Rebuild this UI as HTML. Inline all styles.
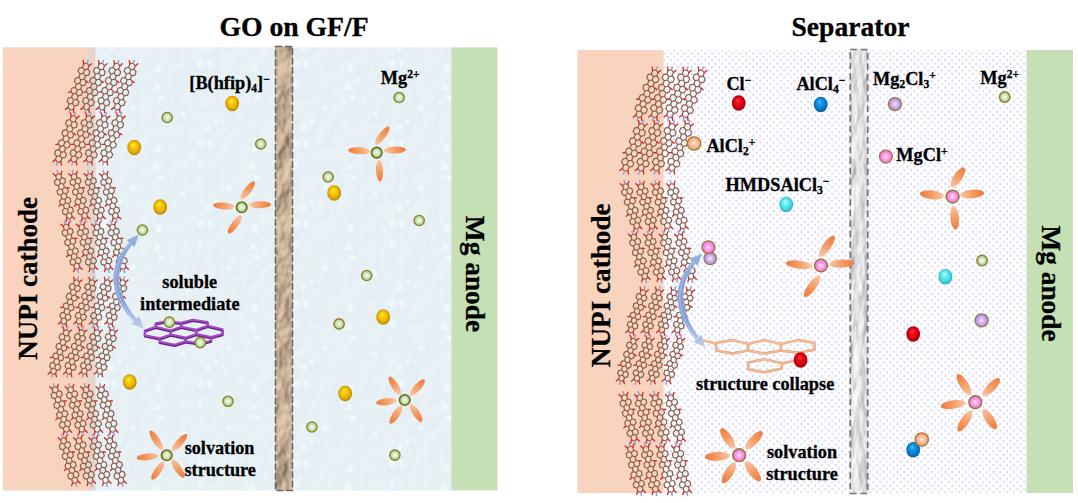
<!DOCTYPE html>
<html lang="en"><head><meta charset="utf-8"><title>Separator schematic</title>
<style>html,body{margin:0;padding:0;background:#fff;}body{width:1078px;height:503px;overflow:hidden;font-family:"Liberation Serif",serif;}svg{display:block}</style>
</head><body>
<svg width="1078" height="503" viewBox="0 0 1078 503">

<defs>
  <radialGradient id="gYel" cx="0.5" cy="0.5" r="0.56" fx="0.42" fy="0.30">
    <stop offset="0" stop-color="#FFF640"/><stop offset="0.28" stop-color="#FBCE0E"/><stop offset="0.62" stop-color="#EAB200"/><stop offset="0.88" stop-color="#BC8C00"/><stop offset="1" stop-color="#A27A00"/>
  </radialGradient>
  <radialGradient id="gRed" cx="0.5" cy="0.5" r="0.56" fx="0.42" fy="0.30">
    <stop offset="0" stop-color="#FF4A3E"/><stop offset="0.28" stop-color="#F2101A"/><stop offset="0.62" stop-color="#D60010"/><stop offset="0.88" stop-color="#A4000A"/><stop offset="1" stop-color="#8A0008"/>
  </radialGradient>
  <radialGradient id="gBlue" cx="0.5" cy="0.5" r="0.56" fx="0.42" fy="0.30">
    <stop offset="0" stop-color="#48C8FF"/><stop offset="0.28" stop-color="#1399EA"/><stop offset="0.62" stop-color="#0A7ED2"/><stop offset="0.88" stop-color="#075FA6"/><stop offset="1" stop-color="#06508E"/>
  </radialGradient>
  <radialGradient id="gCyan" cx="0.5" cy="0.5" r="0.56" fx="0.42" fy="0.30">
    <stop offset="0" stop-color="#D0FFFF"/><stop offset="0.28" stop-color="#6CF0F4"/><stop offset="0.62" stop-color="#48DCE4"/><stop offset="0.88" stop-color="#30B4BE"/><stop offset="1" stop-color="#289CA6"/>
  </radialGradient>
  <radialGradient id="gGreen" cx="0.5" cy="0.5" r="0.5">
    <stop offset="0" stop-color="#FFFFFF"/><stop offset="0.25" stop-color="#E8F3DF"/><stop offset="0.7" stop-color="#BBDCA2"/><stop offset="1" stop-color="#8FC26C"/>
  </radialGradient>
  <radialGradient id="gPink" cx="0.5" cy="0.5" r="0.5">
    <stop offset="0" stop-color="#FFE6FA"/><stop offset="0.5" stop-color="#FF9BE8"/><stop offset="1" stop-color="#F56AD6"/>
  </radialGradient>
  <radialGradient id="gPurp" cx="0.5" cy="0.5" r="0.5">
    <stop offset="0" stop-color="#F3E9FF"/><stop offset="0.5" stop-color="#CDB0F2"/><stop offset="1" stop-color="#AE86E4"/>
  </radialGradient>
  <radialGradient id="gOrg" cx="0.5" cy="0.5" r="0.5">
    <stop offset="0" stop-color="#FFE9DA"/><stop offset="0.5" stop-color="#F8BE98"/><stop offset="1" stop-color="#F0A070"/>
  </radialGradient>
  <linearGradient id="gPet" x1="0" y1="0" x2="1" y2="0">
    <stop offset="0" stop-color="#F9C6A4"/><stop offset="0.55" stop-color="#F49A62"/><stop offset="1" stop-color="#EE7A3C"/>
  </linearGradient>
  <linearGradient id="gArr" x1="0" y1="0" x2="0" y2="1">
    <stop offset="0" stop-color="#9DB6E4"/><stop offset="0.5" stop-color="#86A4DA"/><stop offset="1" stop-color="#B9CBEC"/>
  </linearGradient>
  <pattern id="pDots" width="6.86" height="6.86" patternUnits="userSpaceOnUse" x="0.5" y="0.3">
    <rect width="6.86" height="6.86" fill="#FFFFFF"/>
    <ellipse cx="1.6" cy="1.7" rx="1.0" ry="1.25" fill="#D3D3FA"/>
    <ellipse cx="5.03" cy="5.13" rx="1.0" ry="1.25" fill="#D3D3FA"/>
  </pattern>
  <filter id="fPaper" x="0" y="0" width="1" height="1" color-interpolation-filters="sRGB">
    <feTurbulence type="fractalNoise" baseFrequency="0.06 0.04" numOctaves="3" seed="12" result="n"/>
    <feDiffuseLighting in="n" surfaceScale="3.0" diffuseConstant="1.12" lighting-color="#CDB79B" result="l">
      <feDistantLight azimuth="215" elevation="60"/>
    </feDiffuseLighting>
    <feComposite in="l" in2="SourceGraphic" operator="in"/>
  </filter>
  <filter id="fMarble" x="0" y="0" width="1" height="1" color-interpolation-filters="sRGB">
    <feTurbulence type="fractalNoise" baseFrequency="0.09 0.035" numOctaves="3" seed="5" result="n"/>
    <feDiffuseLighting in="n" surfaceScale="1.6" diffuseConstant="1.12" lighting-color="#E3E3E5" result="l">
      <feDistantLight azimuth="200" elevation="62"/>
    </feDiffuseLighting>
    <feComposite in="l" in2="SourceGraphic" operator="in"/>
  </filter>
  <filter id="fWater" x="0" y="0" width="1" height="1" color-interpolation-filters="sRGB">
    <feTurbulence type="turbulence" baseFrequency="0.05 0.04" numOctaves="2" seed="21" result="n"/>
    <feDiffuseLighting in="n" surfaceScale="0.45" diffuseConstant="1.0" lighting-color="#EBF5F9" result="l">
      <feDistantLight azimuth="225" elevation="80"/>
    </feDiffuseLighting>
    <feComposite in="l" in2="SourceGraphic" operator="in"/>
  </filter>
  <pattern id="pDrops" width="96" height="80" patternUnits="userSpaceOnUse"><g transform="translate(24.9,43.2) rotate(8)"><ellipse rx="3.8" ry="4.6" cx="0.5" cy="0.6" fill="#C9DFE9" opacity="0.5"/><ellipse rx="3.8" ry="4.6" fill="#E4F1F6"/><ellipse rx="1.7" ry="2.3" cx="-1.1" cy="-1.1" fill="#F7FBFD" opacity="0.9"/></g><g transform="translate(9.8,4.9) rotate(-16)"><ellipse rx="5.8" ry="6.3" cx="0.5" cy="0.6" fill="#C9DFE9" opacity="0.5"/><ellipse rx="5.8" ry="6.3" fill="#E4F1F6"/><ellipse rx="2.6" ry="3.2" cx="-1.7" cy="-1.6" fill="#F7FBFD" opacity="0.9"/></g><g transform="translate(91.6,37.9) rotate(8)"><ellipse rx="5.8" ry="6.8" cx="0.5" cy="0.6" fill="#C9DFE9" opacity="0.5"/><ellipse rx="5.8" ry="6.8" fill="#E4F1F6"/><ellipse rx="2.6" ry="3.4" cx="-1.7" cy="-1.7" fill="#F7FBFD" opacity="0.9"/></g><g transform="translate(17.3,49.7) rotate(14)"><ellipse rx="5.9" ry="7.0" cx="0.5" cy="0.6" fill="#C9DFE9" opacity="0.5"/><ellipse rx="5.9" ry="7.0" fill="#E4F1F6"/><ellipse rx="2.7" ry="3.5" cx="-1.8" cy="-1.8" fill="#F7FBFD" opacity="0.9"/></g><g transform="translate(63.1,8.6) rotate(-12)"><ellipse rx="5.5" ry="6.6" cx="0.5" cy="0.6" fill="#C9DFE9" opacity="0.5"/><ellipse rx="5.5" ry="6.6" fill="#E4F1F6"/><ellipse rx="2.5" ry="3.3" cx="-1.6" cy="-1.6" fill="#F7FBFD" opacity="0.9"/></g><g transform="translate(6.7,66.3) rotate(23)"><ellipse rx="4.2" ry="5.3" cx="0.5" cy="0.6" fill="#C9DFE9" opacity="0.5"/><ellipse rx="4.2" ry="5.3" fill="#E4F1F6"/><ellipse rx="1.9" ry="2.6" cx="-1.3" cy="-1.3" fill="#F7FBFD" opacity="0.9"/></g><g transform="translate(66.8,70.3) rotate(-3)"><ellipse rx="3.9" ry="5.0" cx="0.5" cy="0.6" fill="#C9DFE9" opacity="0.5"/><ellipse rx="3.9" ry="5.0" fill="#E4F1F6"/><ellipse rx="1.8" ry="2.5" cx="-1.2" cy="-1.2" fill="#F7FBFD" opacity="0.9"/></g><g transform="translate(86.3,67.3) rotate(-17)"><ellipse rx="2.6" ry="2.7" cx="0.5" cy="0.6" fill="#C9DFE9" opacity="0.5"/><ellipse rx="2.6" ry="2.7" fill="#E4F1F6"/><ellipse rx="1.2" ry="1.4" cx="-0.8" cy="-0.7" fill="#F7FBFD" opacity="0.9"/></g><g transform="translate(89.0,35.4) rotate(0)"><ellipse rx="4.9" ry="5.4" cx="0.5" cy="0.6" fill="#C9DFE9" opacity="0.5"/><ellipse rx="4.9" ry="5.4" fill="#E4F1F6"/><ellipse rx="2.2" ry="2.7" cx="-1.5" cy="-1.4" fill="#F7FBFD" opacity="0.9"/></g><g transform="translate(38.0,29.3) rotate(24)"><ellipse rx="4.7" ry="5.7" cx="0.5" cy="0.6" fill="#C9DFE9" opacity="0.5"/><ellipse rx="4.7" ry="5.7" fill="#E4F1F6"/><ellipse rx="2.1" ry="2.8" cx="-1.4" cy="-1.4" fill="#F7FBFD" opacity="0.9"/></g><g transform="translate(64.0,70.9) rotate(10)"><ellipse rx="5.9" ry="7.9" cx="0.5" cy="0.6" fill="#C9DFE9" opacity="0.5"/><ellipse rx="5.9" ry="7.9" fill="#E4F1F6"/><ellipse rx="2.6" ry="4.0" cx="-1.8" cy="-2.0" fill="#F7FBFD" opacity="0.9"/></g><g transform="translate(18.4,66.0) rotate(4)"><ellipse rx="6.3" ry="8.4" cx="0.5" cy="0.6" fill="#C9DFE9" opacity="0.5"/><ellipse rx="6.3" ry="8.4" fill="#E4F1F6"/><ellipse rx="2.9" ry="4.2" cx="-1.9" cy="-2.1" fill="#F7FBFD" opacity="0.9"/></g><g transform="translate(66.8,19.2) rotate(-13)"><ellipse rx="5.8" ry="6.9" cx="0.5" cy="0.6" fill="#C9DFE9" opacity="0.5"/><ellipse rx="5.8" ry="6.9" fill="#E4F1F6"/><ellipse rx="2.6" ry="3.5" cx="-1.7" cy="-1.7" fill="#F7FBFD" opacity="0.9"/></g><g transform="translate(9.6,65.5) rotate(18)"><ellipse rx="6.5" ry="6.7" cx="0.5" cy="0.6" fill="#C9DFE9" opacity="0.5"/><ellipse rx="6.5" ry="6.7" fill="#E4F1F6"/><ellipse rx="2.9" ry="3.3" cx="-1.9" cy="-1.7" fill="#F7FBFD" opacity="0.9"/></g></pattern>
  <filter id="fSoft" x="-0.05" y="-0.05" width="1.1" height="1.1"><feGaussianBlur stdDeviation="0.55"/></filter>
</defs>

<rect width="1078" height="503" fill="#FFFFFF"/>
<rect x="2.8" y="47.5" width="494.6" height="442.8" fill="#E8F4F8"/>
<rect x="2.8" y="47.5" width="494.6" height="442.8" fill="#fff" filter="url(#fWater)"/>
<rect x="2.8" y="47.5" width="494.6" height="442.8" fill="url(#pDrops)" opacity="0.8"/>
<rect x="2.8" y="47.5" width="85.2" height="442.8" fill="#F8D3BD"/>
<rect x="87.5" y="47.5" width="8" height="442.8" fill="#E5D5CA"/>
<rect x="451.5" y="47.5" width="45.9" height="442.8" fill="#C5E0B4"/>
<rect x="275.5" y="46.5" width="17" height="444" fill="#C3AB8D"/>
<rect x="275.5" y="46.5" width="17" height="444" fill="#fff" filter="url(#fPaper)"/>
<rect x="275.5" y="46.5" width="17" height="444" fill="none" stroke="#6C6266" stroke-width="1.5" stroke-dasharray="6.8 2.6"/>
<rect x="577.5" y="50" width="495.5" height="443" fill="url(#pDots)"/>
<rect x="577.5" y="50" width="86" height="443" fill="#F8D3BD"/>
<rect x="1026.5" y="50" width="46.5" height="443" fill="#C5E0B4"/>
<rect x="850.3" y="49.5" width="17.4" height="444" fill="#D9D9D9"/>
<rect x="850.3" y="49.5" width="17.4" height="444" fill="#fff" filter="url(#fMarble)"/>
<rect x="850.3" y="49.5" width="17.4" height="444" fill="none" stroke="#757074" stroke-width="1.7" stroke-dasharray="6.5 4"/>
<g filter="url(#fSoft)"><path d="M87.0,63.2 L83.7,63.9 L82.5,67.3 L84.6,69.9 L87.8,69.2 L89.1,65.9ZM87.8,69.2 L84.6,69.9 L83.4,73.2 L85.4,75.9 L88.7,75.2 L89.9,71.8ZM82.5,67.3 L79.3,68.0 L78.0,71.3 L80.1,74.0 L83.4,73.2 L84.6,69.9ZM83.4,73.2 L80.1,74.0 L78.9,77.3 L80.9,79.9 L84.2,79.2 L85.4,75.9ZM84.2,79.2 L80.9,79.9 L79.7,83.3 L81.8,85.9 L85.0,85.2 L86.3,81.9ZM78.9,77.3 L75.6,78.0 L74.4,81.3 L76.5,84.0 L79.7,83.3 L80.9,79.9ZM79.7,83.3 L76.5,84.0 L75.2,87.3 L77.3,90.0 L80.6,89.2 L81.8,85.9ZM80.6,89.2 L77.3,90.0 L76.1,93.3 L78.1,95.9 L81.4,95.2 L82.6,91.9ZM75.2,87.3 L72.0,88.0 L70.8,91.4 L72.8,94.0 L76.1,93.3 L77.3,90.0ZM76.1,93.3 L72.8,94.0 L71.6,97.3 L73.7,100.0 L76.9,99.3 L78.1,95.9ZM76.9,99.3 L73.7,100.0 L72.4,103.3 L74.5,106.0 L77.8,105.2 L79.0,101.9ZM71.6,97.3 L68.3,98.0 L67.1,101.4 L69.2,104.0 L72.4,103.3 L73.7,100.0ZM72.4,103.3 L69.2,104.0 L68.0,107.4 L70.0,110.0 L73.3,109.3 L74.5,106.0Z" fill="none" stroke="#8A5E49" stroke-width="1.2" stroke-linejoin="round"/><path d="M87.0,63.2 L88.0,60.4M70.0,110.0 L69.0,112.8" stroke="#93A3D6" stroke-width="1.5" stroke-linecap="round" fill="none"/><path d="M89.1,65.9 L91.6,63.8M83.7,63.9 L83.1,60.7M73.3,109.3 L73.9,112.5M68.0,107.4 L65.4,109.4M86.5,81.2 L88.1,82.6M70.5,92.0 L68.4,92.1" stroke="#E3241C" stroke-width="1.35" stroke-linecap="round" fill="none"/><path d="M74.5,115.5 L71.2,116.2 L70.0,119.5 L72.1,122.2 L75.3,121.5 L76.5,118.1ZM75.3,121.5 L72.1,122.2 L70.8,125.5 L72.9,128.2 L76.2,127.5 L77.4,124.1ZM70.0,119.5 L66.7,120.3 L65.5,123.6 L67.6,126.2 L70.8,125.5 L72.1,122.2ZM70.8,125.5 L67.6,126.2 L66.4,129.6 L68.4,132.2 L71.7,131.5 L72.9,128.2ZM71.7,131.5 L68.4,132.2 L67.2,135.5 L69.3,138.2 L72.5,137.5 L73.7,134.1ZM66.4,129.6 L63.1,130.3 L61.9,133.6 L63.9,136.3 L67.2,135.5 L68.4,132.2ZM67.2,135.5 L63.9,136.3 L62.7,139.6 L64.8,142.2 L68.0,141.5 L69.3,138.2ZM68.0,141.5 L64.8,142.2 L63.6,145.6 L65.6,148.2 L68.9,147.5 L70.1,144.2ZM62.7,139.6 L59.5,140.3 L58.2,143.6 L60.3,146.3 L63.6,145.6 L64.8,142.2ZM63.6,145.6 L60.3,146.3 L59.1,149.6 L61.1,152.3 L64.4,151.5 L65.6,148.2ZM64.4,151.5 L61.1,152.3 L59.9,155.6 L62.0,158.2 L65.2,157.5 L66.5,154.2ZM59.1,149.6 L55.8,150.3 L54.6,153.7 L56.7,156.3 L59.9,155.6 L61.1,152.3ZM59.9,155.6 L56.7,156.3 L55.4,159.6 L57.5,162.3 L60.8,161.6 L62.0,158.2Z" fill="none" stroke="#8A5E49" stroke-width="1.2" stroke-linejoin="round"/><path d="M74.5,115.5 L75.5,112.7M57.5,162.3 L56.5,165.1" stroke="#93A3D6" stroke-width="1.5" stroke-linecap="round" fill="none"/><path d="M76.5,118.1 L79.1,116.1M71.2,116.2 L70.6,113.0M60.8,161.6 L61.4,164.8M55.4,159.6 L52.9,161.7M74.0,133.5 L75.6,134.9M58.0,144.3 L55.9,144.4" stroke="#E3241C" stroke-width="1.35" stroke-linecap="round" fill="none"/><path d="M57.8,173.5 L55.7,175.8 L56.6,179.1 L59.6,180.0 L61.7,177.7 L60.9,174.4ZM61.7,177.7 L59.6,180.0 L60.5,183.3 L63.5,184.2 L65.6,181.9 L64.8,178.6ZM56.6,179.1 L54.4,181.4 L55.3,184.6 L58.3,185.6 L60.5,183.3 L59.6,180.0ZM60.5,183.3 L58.3,185.6 L59.2,188.8 L62.2,189.7 L64.4,187.4 L63.5,184.2ZM64.4,187.4 L62.2,189.7 L63.1,193.0 L66.1,193.9 L68.3,191.6 L67.4,188.4ZM59.2,188.8 L57.0,191.1 L57.9,194.4 L60.9,195.3 L63.1,193.0 L62.2,189.7ZM63.1,193.0 L60.9,195.3 L61.8,198.6 L64.8,199.5 L67.0,197.2 L66.1,193.9ZM67.0,197.2 L64.8,199.5 L65.7,202.7 L68.7,203.7 L70.9,201.3 L70.0,198.1ZM61.8,198.6 L59.6,200.9 L60.5,204.1 L63.5,205.1 L65.7,202.7 L64.8,199.5ZM65.7,202.7 L63.5,205.1 L64.4,208.3 L67.4,209.2 L69.6,206.9 L68.7,203.7ZM69.6,206.9 L67.4,209.2 L68.3,212.5 L71.3,213.4 L73.5,211.1 L72.6,207.8ZM64.4,208.3 L62.3,210.6 L63.1,213.9 L66.2,214.8 L68.3,212.5 L67.4,209.2ZM68.3,212.5 L66.2,214.8 L67.0,218.0 L70.1,219.0 L72.2,216.7 L71.3,213.4Z" fill="none" stroke="#8A5E49" stroke-width="1.2" stroke-linejoin="round"/><path d="M57.8,173.5 L57.1,170.6M70.1,219.0 L70.8,221.9" stroke="#93A3D6" stroke-width="1.5" stroke-linecap="round" fill="none"/><path d="M60.9,174.4 L61.8,171.4M55.7,175.8 L53.3,173.7M72.2,216.7 L74.6,218.8M67.0,218.0 L66.1,221.1M67.2,187.7 L69.3,187.9M60.7,204.8 L59.0,206.1" stroke="#E3241C" stroke-width="1.35" stroke-linecap="round" fill="none"/><path d="M65.4,224.0 L63.3,226.3 L64.2,229.6 L67.2,230.5 L69.3,228.2 L68.5,225.0ZM69.3,228.2 L67.2,230.5 L68.1,233.8 L71.1,234.7 L73.2,232.4 L72.4,229.1ZM64.2,229.6 L62.0,231.9 L62.9,235.2 L65.9,236.1 L68.1,233.8 L67.2,230.5ZM68.1,233.8 L65.9,236.1 L66.8,239.3 L69.8,240.3 L72.0,237.9 L71.1,234.7ZM72.0,237.9 L69.8,240.3 L70.7,243.5 L73.7,244.4 L75.9,242.1 L75.0,238.9ZM66.8,239.3 L64.6,241.7 L65.5,244.9 L68.5,245.8 L70.7,243.5 L69.8,240.3ZM70.7,243.5 L68.5,245.8 L69.4,249.1 L72.4,250.0 L74.6,247.7 L73.7,244.4ZM74.6,247.7 L72.4,250.0 L73.3,253.3 L76.3,254.2 L78.5,251.9 L77.6,248.6ZM69.4,249.1 L67.2,251.4 L68.1,254.6 L71.1,255.6 L73.3,253.3 L72.4,250.0ZM73.3,253.3 L71.1,255.6 L72.0,258.8 L75.0,259.7 L77.2,257.4 L76.3,254.2ZM77.2,257.4 L75.0,259.7 L75.9,263.0 L78.9,263.9 L81.1,261.6 L80.2,258.4ZM72.0,258.8 L69.9,261.1 L70.7,264.4 L73.8,265.3 L75.9,263.0 L75.0,259.7ZM75.9,263.0 L73.8,265.3 L74.6,268.6 L77.7,269.5 L79.8,267.2 L78.9,263.9Z" fill="none" stroke="#8A5E49" stroke-width="1.2" stroke-linejoin="round"/><path d="M65.4,224.0 L64.7,221.1M77.7,269.5 L78.4,272.4" stroke="#93A3D6" stroke-width="1.5" stroke-linecap="round" fill="none"/><path d="M68.5,225.0 L69.4,221.9M63.3,226.3 L60.9,224.2M79.8,267.2 L82.2,269.3M74.6,268.6 L73.7,271.6M74.8,238.2 L76.9,238.4M68.3,255.3 L66.6,256.6" stroke="#E3241C" stroke-width="1.35" stroke-linecap="round" fill="none"/><path d="M77.5,279.6 L74.4,280.4 L73.4,283.6 L75.4,286.0 L78.5,285.3 L79.5,282.1ZM78.5,285.3 L75.4,286.0 L74.3,289.2 L76.4,291.6 L79.4,290.9 L80.5,287.7ZM73.4,283.6 L70.3,284.3 L69.2,287.5 L71.3,290.0 L74.3,289.2 L75.4,286.0ZM74.3,289.2 L71.3,290.0 L70.2,293.2 L72.2,295.6 L75.3,294.8 L76.4,291.6ZM75.3,294.8 L72.2,295.6 L71.2,298.8 L73.2,301.2 L76.3,300.5 L77.3,297.3ZM70.2,293.2 L67.2,293.9 L66.1,297.1 L68.1,299.6 L71.2,298.8 L72.2,295.6ZM71.2,298.8 L68.1,299.6 L67.1,302.8 L69.1,305.2 L72.2,304.4 L73.2,301.2ZM72.2,304.4 L69.1,305.2 L68.1,308.4 L70.1,310.8 L73.1,310.0 L74.2,306.9ZM67.1,302.8 L64.0,303.5 L63.0,306.7 L65.0,309.1 L68.1,308.4 L69.1,305.2ZM68.1,308.4 L65.0,309.1 L63.9,312.3 L66.0,314.8 L69.0,314.0 L70.1,310.8ZM69.0,314.0 L66.0,314.8 L64.9,318.0 L66.9,320.4 L70.0,319.6 L71.1,316.4ZM63.9,312.3 L60.9,313.1 L59.8,316.3 L61.8,318.7 L64.9,318.0 L66.0,314.8ZM64.9,318.0 L61.8,318.7 L60.8,321.9 L62.8,324.4 L65.9,323.6 L66.9,320.4Z" fill="none" stroke="#8A5E49" stroke-width="1.2" stroke-linejoin="round"/><path d="M77.5,279.6 L78.4,276.8M62.8,324.4 L61.9,327.2" stroke="#93A3D6" stroke-width="1.5" stroke-linecap="round" fill="none"/><path d="M79.5,282.1 L81.9,280.0M74.4,280.4 L73.6,277.3M65.9,323.6 L66.7,326.7M60.8,321.9 L58.4,323.9M77.6,296.6 L79.2,298.0M62.7,307.4 L60.6,307.5" stroke="#E3241C" stroke-width="1.35" stroke-linecap="round" fill="none"/><path d="M67.2,329.6 L64.1,330.4 L63.1,333.6 L65.1,336.0 L68.2,335.3 L69.2,332.1ZM68.2,335.3 L65.1,336.0 L64.0,339.2 L66.1,341.7 L69.1,340.9 L70.2,337.7ZM63.1,333.6 L60.0,334.4 L58.9,337.6 L61.0,340.0 L64.0,339.2 L65.1,336.0ZM64.0,339.2 L61.0,340.0 L59.9,343.2 L61.9,345.6 L65.0,344.9 L66.1,341.7ZM65.0,344.9 L61.9,345.6 L60.9,348.8 L62.9,351.2 L66.0,350.5 L67.0,347.3ZM59.9,343.2 L56.9,344.0 L55.8,347.1 L57.8,349.6 L60.9,348.8 L61.9,345.6ZM60.9,348.8 L57.8,349.6 L56.8,352.8 L58.8,355.2 L61.9,354.4 L62.9,351.2ZM61.9,354.4 L58.8,355.2 L57.8,358.4 L59.8,360.8 L62.8,360.1 L63.9,356.9ZM56.8,352.8 L53.7,353.5 L52.7,356.7 L54.7,359.2 L57.8,358.4 L58.8,355.2ZM57.8,358.4 L54.7,359.2 L53.6,362.4 L55.7,364.8 L58.7,364.0 L59.8,360.8ZM58.7,364.0 L55.7,364.8 L54.6,368.0 L56.6,370.4 L59.7,369.7 L60.8,366.5ZM53.6,362.4 L50.6,363.1 L49.5,366.3 L51.5,368.7 L54.6,368.0 L55.7,364.8ZM54.6,368.0 L51.5,368.7 L50.5,371.9 L52.5,374.4 L55.6,373.6 L56.6,370.4Z" fill="none" stroke="#8A5E49" stroke-width="1.2" stroke-linejoin="round"/><path d="M67.2,329.6 L68.1,326.8M52.5,374.4 L51.6,377.2" stroke="#93A3D6" stroke-width="1.5" stroke-linecap="round" fill="none"/><path d="M69.2,332.1 L71.6,330.1M64.1,330.4 L63.3,327.3M55.6,373.6 L56.4,376.7M50.5,371.9 L48.1,374.0M67.3,346.6 L68.9,348.0M52.4,357.4 L50.3,357.5" stroke="#E3241C" stroke-width="1.35" stroke-linecap="round" fill="none"/><path d="M54.3,386.5 L52.2,388.9 L53.1,392.2 L56.2,393.1 L58.3,390.7 L57.4,387.4ZM58.3,390.7 L56.2,393.1 L57.1,396.4 L60.2,397.3 L62.3,394.9 L61.4,391.6ZM53.1,392.2 L51.0,394.6 L51.9,397.9 L55.0,398.8 L57.1,396.4 L56.2,393.1ZM57.1,396.4 L55.0,398.8 L55.9,402.0 L59.0,402.9 L61.1,400.6 L60.2,397.3ZM61.1,400.6 L59.0,402.9 L59.9,406.2 L63.0,407.1 L65.1,404.7 L64.2,401.5ZM55.9,402.0 L53.8,404.4 L54.7,407.7 L57.8,408.6 L59.9,406.2 L59.0,402.9ZM59.9,406.2 L57.8,408.6 L58.7,411.9 L61.8,412.8 L63.9,410.4 L63.0,407.1ZM63.9,410.4 L61.8,412.8 L62.7,416.0 L65.8,417.0 L67.9,414.6 L67.0,411.3ZM58.7,411.9 L56.5,414.2 L57.5,417.5 L60.5,418.4 L62.7,416.0 L61.8,412.8ZM62.7,416.0 L60.5,418.4 L61.5,421.7 L64.5,422.6 L66.7,420.2 L65.8,417.0ZM66.7,420.2 L64.5,422.6 L65.5,425.9 L68.5,426.8 L70.7,424.4 L69.8,421.1ZM61.5,421.7 L59.3,424.1 L60.2,427.4 L63.3,428.3 L65.5,425.9 L64.5,422.6ZM65.5,425.9 L63.3,428.3 L64.2,431.5 L67.3,432.4 L69.5,430.1 L68.5,426.8Z" fill="none" stroke="#8A5E49" stroke-width="1.2" stroke-linejoin="round"/><path d="M54.3,386.5 L53.5,383.7M67.3,432.4 L68.1,435.3" stroke="#93A3D6" stroke-width="1.5" stroke-linecap="round" fill="none"/><path d="M57.4,387.4 L58.3,384.4M52.2,388.9 L49.8,386.8M69.5,430.1 L71.8,432.2M64.2,431.5 L63.3,434.6M64.0,400.8 L66.2,401.0M57.7,418.2 L55.9,419.5" stroke="#E3241C" stroke-width="1.35" stroke-linecap="round" fill="none"/><path d="M62.7,437.6 L60.5,439.9 L61.5,443.2 L64.5,444.1 L66.7,441.7 L65.8,438.5ZM66.7,441.7 L64.5,444.1 L65.5,447.4 L68.5,448.3 L70.7,445.9 L69.8,442.6ZM61.5,443.2 L59.3,445.6 L60.2,448.9 L63.3,449.8 L65.5,447.4 L64.5,444.1ZM65.5,447.4 L63.3,449.8 L64.2,453.0 L67.3,454.0 L69.5,451.6 L68.5,448.3ZM69.5,451.6 L67.3,454.0 L68.2,457.2 L71.3,458.1 L73.5,455.8 L72.5,452.5ZM64.2,453.0 L62.1,455.4 L63.0,458.7 L66.1,459.6 L68.2,457.2 L67.3,454.0ZM68.2,457.2 L66.1,459.6 L67.0,462.9 L70.1,463.8 L72.2,461.4 L71.3,458.1ZM72.2,461.4 L70.1,463.8 L71.0,467.1 L74.1,468.0 L76.2,465.6 L75.3,462.3ZM67.0,462.9 L64.9,465.3 L65.8,468.5 L68.9,469.4 L71.0,467.1 L70.1,463.8ZM71.0,467.1 L68.9,469.4 L69.8,472.7 L72.9,473.6 L75.0,471.2 L74.1,468.0ZM75.0,471.2 L72.9,473.6 L73.8,476.9 L76.9,477.8 L79.0,475.4 L78.1,472.1ZM69.8,472.7 L67.7,475.1 L68.6,478.4 L71.7,479.3 L73.8,476.9 L72.9,473.6ZM73.8,476.9 L71.7,479.3 L72.6,482.6 L75.7,483.5 L77.8,481.1 L76.9,477.8Z" fill="none" stroke="#8A5E49" stroke-width="1.2" stroke-linejoin="round"/><path d="M62.7,437.6 L61.9,434.7M75.7,483.5 L76.5,486.3" stroke="#93A3D6" stroke-width="1.5" stroke-linecap="round" fill="none"/><path d="M65.8,438.5 L66.7,435.4M60.5,439.9 L58.2,437.8M77.8,481.1 L80.2,483.2M72.6,482.6 L71.7,485.6M72.3,451.8 L74.5,452.0M66.0,469.2 L64.3,470.5" stroke="#E3241C" stroke-width="1.35" stroke-linecap="round" fill="none"/><path d="M102.4,63.2 L99.1,63.9 L97.9,67.3 L100.0,69.9 L103.2,69.2 L104.5,65.9ZM103.2,69.2 L100.0,69.9 L98.8,73.2 L100.8,75.9 L104.1,75.2 L105.3,71.8ZM97.9,67.3 L94.7,68.0 L93.4,71.3 L95.5,74.0 L98.8,73.2 L100.0,69.9ZM98.8,73.2 L95.5,74.0 L94.3,77.3 L96.3,79.9 L99.6,79.2 L100.8,75.9ZM99.6,79.2 L96.3,79.9 L95.1,83.3 L97.2,85.9 L100.4,85.2 L101.7,81.9ZM94.3,77.3 L91.0,78.0 L89.8,81.3 L91.9,84.0 L95.1,83.3 L96.3,79.9ZM95.1,83.3 L91.9,84.0 L90.6,87.3 L92.7,90.0 L96.0,89.2 L97.2,85.9ZM96.0,89.2 L92.7,90.0 L91.5,93.3 L93.5,95.9 L96.8,95.2 L98.0,91.9ZM90.6,87.3 L87.4,88.0 L86.2,91.4 L88.2,94.0 L91.5,93.3 L92.7,90.0ZM91.5,93.3 L88.2,94.0 L87.0,97.3 L89.1,100.0 L92.3,99.3 L93.5,95.9ZM92.3,99.3 L89.1,100.0 L87.8,103.3 L89.9,106.0 L93.2,105.2 L94.4,101.9ZM87.0,97.3 L83.7,98.0 L82.5,101.4 L84.6,104.0 L87.8,103.3 L89.1,100.0ZM87.8,103.3 L84.6,104.0 L83.4,107.4 L85.4,110.0 L88.7,109.3 L89.9,106.0Z" fill="none" stroke="#8A5E49" stroke-width="1.2" stroke-linejoin="round"/><path d="M102.4,63.2 L103.4,60.4M85.4,110.0 L84.4,112.8" stroke="#93A3D6" stroke-width="1.5" stroke-linecap="round" fill="none"/><path d="M104.5,65.9 L107.0,63.8M99.1,63.9 L98.5,60.7M88.7,109.3 L89.3,112.5M83.4,107.4 L80.8,109.4M101.9,81.2 L103.5,82.6M85.9,92.0 L83.8,92.1" stroke="#E3241C" stroke-width="1.35" stroke-linecap="round" fill="none"/><path d="M89.9,115.5 L86.6,116.2 L85.4,119.5 L87.5,122.2 L90.7,121.5 L91.9,118.1ZM90.7,121.5 L87.5,122.2 L86.2,125.5 L88.3,128.2 L91.6,127.5 L92.8,124.1ZM85.4,119.5 L82.1,120.3 L80.9,123.6 L83.0,126.2 L86.2,125.5 L87.5,122.2ZM86.2,125.5 L83.0,126.2 L81.8,129.6 L83.8,132.2 L87.1,131.5 L88.3,128.2ZM87.1,131.5 L83.8,132.2 L82.6,135.5 L84.7,138.2 L87.9,137.5 L89.1,134.1ZM81.8,129.6 L78.5,130.3 L77.3,133.6 L79.3,136.3 L82.6,135.5 L83.8,132.2ZM82.6,135.5 L79.3,136.3 L78.1,139.6 L80.2,142.2 L83.4,141.5 L84.7,138.2ZM83.4,141.5 L80.2,142.2 L79.0,145.6 L81.0,148.2 L84.3,147.5 L85.5,144.2ZM78.1,139.6 L74.9,140.3 L73.6,143.6 L75.7,146.3 L79.0,145.6 L80.2,142.2ZM79.0,145.6 L75.7,146.3 L74.5,149.6 L76.5,152.3 L79.8,151.5 L81.0,148.2ZM79.8,151.5 L76.5,152.3 L75.3,155.6 L77.4,158.2 L80.6,157.5 L81.9,154.2ZM74.5,149.6 L71.2,150.3 L70.0,153.7 L72.1,156.3 L75.3,155.6 L76.5,152.3ZM75.3,155.6 L72.1,156.3 L70.8,159.6 L72.9,162.3 L76.2,161.6 L77.4,158.2Z" fill="none" stroke="#8A5E49" stroke-width="1.2" stroke-linejoin="round"/><path d="M89.9,115.5 L90.9,112.7M72.9,162.3 L71.9,165.1" stroke="#93A3D6" stroke-width="1.5" stroke-linecap="round" fill="none"/><path d="M91.9,118.1 L94.5,116.1M86.6,116.2 L86.0,113.0M76.2,161.6 L76.8,164.8M70.8,159.6 L68.3,161.7M89.4,133.5 L91.0,134.9M73.4,144.3 L71.3,144.4" stroke="#E3241C" stroke-width="1.35" stroke-linecap="round" fill="none"/><path d="M73.2,173.5 L71.1,175.8 L72.0,179.1 L75.0,180.0 L77.1,177.7 L76.3,174.4ZM77.1,177.7 L75.0,180.0 L75.9,183.3 L78.9,184.2 L81.0,181.9 L80.2,178.6ZM72.0,179.1 L69.8,181.4 L70.7,184.6 L73.7,185.6 L75.9,183.3 L75.0,180.0ZM75.9,183.3 L73.7,185.6 L74.6,188.8 L77.6,189.7 L79.8,187.4 L78.9,184.2ZM79.8,187.4 L77.6,189.7 L78.5,193.0 L81.5,193.9 L83.7,191.6 L82.8,188.4ZM74.6,188.8 L72.4,191.1 L73.3,194.4 L76.3,195.3 L78.5,193.0 L77.6,189.7ZM78.5,193.0 L76.3,195.3 L77.2,198.6 L80.2,199.5 L82.4,197.2 L81.5,193.9ZM82.4,197.2 L80.2,199.5 L81.1,202.7 L84.1,203.7 L86.3,201.3 L85.4,198.1ZM77.2,198.6 L75.0,200.9 L75.9,204.1 L78.9,205.1 L81.1,202.7 L80.2,199.5ZM81.1,202.7 L78.9,205.1 L79.8,208.3 L82.8,209.2 L85.0,206.9 L84.1,203.7ZM85.0,206.9 L82.8,209.2 L83.7,212.5 L86.7,213.4 L88.9,211.1 L88.0,207.8ZM79.8,208.3 L77.7,210.6 L78.5,213.9 L81.6,214.8 L83.7,212.5 L82.8,209.2ZM83.7,212.5 L81.6,214.8 L82.4,218.0 L85.5,219.0 L87.6,216.7 L86.7,213.4Z" fill="none" stroke="#8A5E49" stroke-width="1.2" stroke-linejoin="round"/><path d="M73.2,173.5 L72.5,170.6M85.5,219.0 L86.2,221.9" stroke="#93A3D6" stroke-width="1.5" stroke-linecap="round" fill="none"/><path d="M76.3,174.4 L77.2,171.4M71.1,175.8 L68.7,173.7M87.6,216.7 L90.0,218.8M82.4,218.0 L81.5,221.1M82.6,187.7 L84.7,187.9M76.1,204.8 L74.4,206.1" stroke="#E3241C" stroke-width="1.35" stroke-linecap="round" fill="none"/><path d="M80.8,224.0 L78.7,226.3 L79.6,229.6 L82.6,230.5 L84.7,228.2 L83.9,225.0ZM84.7,228.2 L82.6,230.5 L83.5,233.8 L86.5,234.7 L88.6,232.4 L87.8,229.1ZM79.6,229.6 L77.4,231.9 L78.3,235.2 L81.3,236.1 L83.5,233.8 L82.6,230.5ZM83.5,233.8 L81.3,236.1 L82.2,239.3 L85.2,240.3 L87.4,237.9 L86.5,234.7ZM87.4,237.9 L85.2,240.3 L86.1,243.5 L89.1,244.4 L91.3,242.1 L90.4,238.9ZM82.2,239.3 L80.0,241.7 L80.9,244.9 L83.9,245.8 L86.1,243.5 L85.2,240.3ZM86.1,243.5 L83.9,245.8 L84.8,249.1 L87.8,250.0 L90.0,247.7 L89.1,244.4ZM90.0,247.7 L87.8,250.0 L88.7,253.3 L91.7,254.2 L93.9,251.9 L93.0,248.6ZM84.8,249.1 L82.6,251.4 L83.5,254.6 L86.5,255.6 L88.7,253.3 L87.8,250.0ZM88.7,253.3 L86.5,255.6 L87.4,258.8 L90.4,259.7 L92.6,257.4 L91.7,254.2ZM92.6,257.4 L90.4,259.7 L91.3,263.0 L94.3,263.9 L96.5,261.6 L95.6,258.4ZM87.4,258.8 L85.3,261.1 L86.1,264.4 L89.2,265.3 L91.3,263.0 L90.4,259.7ZM91.3,263.0 L89.2,265.3 L90.0,268.6 L93.1,269.5 L95.2,267.2 L94.3,263.9Z" fill="none" stroke="#8A5E49" stroke-width="1.2" stroke-linejoin="round"/><path d="M80.8,224.0 L80.1,221.1M93.1,269.5 L93.8,272.4" stroke="#93A3D6" stroke-width="1.5" stroke-linecap="round" fill="none"/><path d="M83.9,225.0 L84.8,221.9M78.7,226.3 L76.3,224.2M95.2,267.2 L97.6,269.3M90.0,268.6 L89.1,271.6M90.2,238.2 L92.3,238.4M83.7,255.3 L82.0,256.6" stroke="#E3241C" stroke-width="1.35" stroke-linecap="round" fill="none"/><path d="M92.9,279.6 L89.8,280.4 L88.8,283.6 L90.8,286.0 L93.9,285.3 L94.9,282.1ZM93.9,285.3 L90.8,286.0 L89.7,289.2 L91.8,291.6 L94.8,290.9 L95.9,287.7ZM88.8,283.6 L85.7,284.3 L84.6,287.5 L86.7,290.0 L89.7,289.2 L90.8,286.0ZM89.7,289.2 L86.7,290.0 L85.6,293.2 L87.6,295.6 L90.7,294.8 L91.8,291.6ZM90.7,294.8 L87.6,295.6 L86.6,298.8 L88.6,301.2 L91.7,300.5 L92.7,297.3ZM85.6,293.2 L82.6,293.9 L81.5,297.1 L83.5,299.6 L86.6,298.8 L87.6,295.6ZM86.6,298.8 L83.5,299.6 L82.5,302.8 L84.5,305.2 L87.6,304.4 L88.6,301.2ZM87.6,304.4 L84.5,305.2 L83.5,308.4 L85.5,310.8 L88.5,310.0 L89.6,306.9ZM82.5,302.8 L79.4,303.5 L78.4,306.7 L80.4,309.1 L83.5,308.4 L84.5,305.2ZM83.5,308.4 L80.4,309.1 L79.3,312.3 L81.4,314.8 L84.4,314.0 L85.5,310.8ZM84.4,314.0 L81.4,314.8 L80.3,318.0 L82.3,320.4 L85.4,319.6 L86.5,316.4ZM79.3,312.3 L76.3,313.1 L75.2,316.3 L77.2,318.7 L80.3,318.0 L81.4,314.8ZM80.3,318.0 L77.2,318.7 L76.2,321.9 L78.2,324.4 L81.3,323.6 L82.3,320.4Z" fill="none" stroke="#8A5E49" stroke-width="1.2" stroke-linejoin="round"/><path d="M92.9,279.6 L93.8,276.8M78.2,324.4 L77.3,327.2" stroke="#93A3D6" stroke-width="1.5" stroke-linecap="round" fill="none"/><path d="M94.9,282.1 L97.3,280.0M89.8,280.4 L89.0,277.3M81.3,323.6 L82.1,326.7M76.2,321.9 L73.8,323.9M93.0,296.6 L94.6,298.0M78.1,307.4 L76.0,307.5" stroke="#E3241C" stroke-width="1.35" stroke-linecap="round" fill="none"/><path d="M82.6,329.6 L79.5,330.4 L78.5,333.6 L80.5,336.0 L83.6,335.3 L84.6,332.1ZM83.6,335.3 L80.5,336.0 L79.4,339.2 L81.5,341.7 L84.5,340.9 L85.6,337.7ZM78.5,333.6 L75.4,334.4 L74.3,337.6 L76.4,340.0 L79.4,339.2 L80.5,336.0ZM79.4,339.2 L76.4,340.0 L75.3,343.2 L77.3,345.6 L80.4,344.9 L81.5,341.7ZM80.4,344.9 L77.3,345.6 L76.3,348.8 L78.3,351.2 L81.4,350.5 L82.4,347.3ZM75.3,343.2 L72.3,344.0 L71.2,347.1 L73.2,349.6 L76.3,348.8 L77.3,345.6ZM76.3,348.8 L73.2,349.6 L72.2,352.8 L74.2,355.2 L77.3,354.4 L78.3,351.2ZM77.3,354.4 L74.2,355.2 L73.2,358.4 L75.2,360.8 L78.2,360.1 L79.3,356.9ZM72.2,352.8 L69.1,353.5 L68.1,356.7 L70.1,359.2 L73.2,358.4 L74.2,355.2ZM73.2,358.4 L70.1,359.2 L69.0,362.4 L71.1,364.8 L74.1,364.0 L75.2,360.8ZM74.1,364.0 L71.1,364.8 L70.0,368.0 L72.0,370.4 L75.1,369.7 L76.2,366.5ZM69.0,362.4 L66.0,363.1 L64.9,366.3 L66.9,368.7 L70.0,368.0 L71.1,364.8ZM70.0,368.0 L66.9,368.7 L65.9,371.9 L67.9,374.4 L71.0,373.6 L72.0,370.4Z" fill="none" stroke="#8A5E49" stroke-width="1.2" stroke-linejoin="round"/><path d="M82.6,329.6 L83.5,326.8M67.9,374.4 L67.0,377.2" stroke="#93A3D6" stroke-width="1.5" stroke-linecap="round" fill="none"/><path d="M84.6,332.1 L87.0,330.1M79.5,330.4 L78.7,327.3M71.0,373.6 L71.8,376.7M65.9,371.9 L63.5,374.0M82.7,346.6 L84.3,348.0M67.8,357.4 L65.7,357.5" stroke="#E3241C" stroke-width="1.35" stroke-linecap="round" fill="none"/><path d="M69.7,386.5 L67.6,388.9 L68.5,392.2 L71.6,393.1 L73.7,390.7 L72.8,387.4ZM73.7,390.7 L71.6,393.1 L72.5,396.4 L75.6,397.3 L77.7,394.9 L76.8,391.6ZM68.5,392.2 L66.4,394.6 L67.3,397.9 L70.4,398.8 L72.5,396.4 L71.6,393.1ZM72.5,396.4 L70.4,398.8 L71.3,402.0 L74.4,402.9 L76.5,400.6 L75.6,397.3ZM76.5,400.6 L74.4,402.9 L75.3,406.2 L78.4,407.1 L80.5,404.7 L79.6,401.5ZM71.3,402.0 L69.2,404.4 L70.1,407.7 L73.2,408.6 L75.3,406.2 L74.4,402.9ZM75.3,406.2 L73.2,408.6 L74.1,411.9 L77.2,412.8 L79.3,410.4 L78.4,407.1ZM79.3,410.4 L77.2,412.8 L78.1,416.0 L81.2,417.0 L83.3,414.6 L82.4,411.3ZM74.1,411.9 L71.9,414.2 L72.9,417.5 L75.9,418.4 L78.1,416.0 L77.2,412.8ZM78.1,416.0 L75.9,418.4 L76.9,421.7 L79.9,422.6 L82.1,420.2 L81.2,417.0ZM82.1,420.2 L79.9,422.6 L80.9,425.9 L83.9,426.8 L86.1,424.4 L85.2,421.1ZM76.9,421.7 L74.7,424.1 L75.6,427.4 L78.7,428.3 L80.9,425.9 L79.9,422.6ZM80.9,425.9 L78.7,428.3 L79.6,431.5 L82.7,432.4 L84.9,430.1 L83.9,426.8Z" fill="none" stroke="#8A5E49" stroke-width="1.2" stroke-linejoin="round"/><path d="M69.7,386.5 L68.9,383.7M82.7,432.4 L83.5,435.3" stroke="#93A3D6" stroke-width="1.5" stroke-linecap="round" fill="none"/><path d="M72.8,387.4 L73.7,384.4M67.6,388.9 L65.2,386.8M84.9,430.1 L87.2,432.2M79.6,431.5 L78.7,434.6M79.4,400.8 L81.6,401.0M73.1,418.2 L71.3,419.5" stroke="#E3241C" stroke-width="1.35" stroke-linecap="round" fill="none"/><path d="M78.1,437.6 L75.9,439.9 L76.9,443.2 L79.9,444.1 L82.1,441.7 L81.2,438.5ZM82.1,441.7 L79.9,444.1 L80.9,447.4 L83.9,448.3 L86.1,445.9 L85.2,442.6ZM76.9,443.2 L74.7,445.6 L75.6,448.9 L78.7,449.8 L80.9,447.4 L79.9,444.1ZM80.9,447.4 L78.7,449.8 L79.6,453.0 L82.7,454.0 L84.9,451.6 L83.9,448.3ZM84.9,451.6 L82.7,454.0 L83.6,457.2 L86.7,458.1 L88.9,455.8 L87.9,452.5ZM79.6,453.0 L77.5,455.4 L78.4,458.7 L81.5,459.6 L83.6,457.2 L82.7,454.0ZM83.6,457.2 L81.5,459.6 L82.4,462.9 L85.5,463.8 L87.6,461.4 L86.7,458.1ZM87.6,461.4 L85.5,463.8 L86.4,467.1 L89.5,468.0 L91.6,465.6 L90.7,462.3ZM82.4,462.9 L80.3,465.3 L81.2,468.5 L84.3,469.4 L86.4,467.1 L85.5,463.8ZM86.4,467.1 L84.3,469.4 L85.2,472.7 L88.3,473.6 L90.4,471.2 L89.5,468.0ZM90.4,471.2 L88.3,473.6 L89.2,476.9 L92.3,477.8 L94.4,475.4 L93.5,472.1ZM85.2,472.7 L83.1,475.1 L84.0,478.4 L87.1,479.3 L89.2,476.9 L88.3,473.6ZM89.2,476.9 L87.1,479.3 L88.0,482.6 L91.1,483.5 L93.2,481.1 L92.3,477.8Z" fill="none" stroke="#8A5E49" stroke-width="1.2" stroke-linejoin="round"/><path d="M78.1,437.6 L77.3,434.7M91.1,483.5 L91.9,486.3" stroke="#93A3D6" stroke-width="1.5" stroke-linecap="round" fill="none"/><path d="M81.2,438.5 L82.1,435.4M75.9,439.9 L73.6,437.8M93.2,481.1 L95.6,483.2M88.0,482.6 L87.1,485.6M87.7,451.8 L89.9,452.0M81.4,469.2 L79.7,470.5" stroke="#E3241C" stroke-width="1.35" stroke-linecap="round" fill="none"/><path d="M117.8,63.2 L114.5,63.9 L113.3,67.3 L115.4,69.9 L118.6,69.2 L119.9,65.9ZM118.6,69.2 L115.4,69.9 L114.2,73.2 L116.2,75.9 L119.5,75.2 L120.7,71.8ZM113.3,67.3 L110.1,68.0 L108.8,71.3 L110.9,74.0 L114.2,73.2 L115.4,69.9ZM114.2,73.2 L110.9,74.0 L109.7,77.3 L111.7,79.9 L115.0,79.2 L116.2,75.9ZM115.0,79.2 L111.7,79.9 L110.5,83.3 L112.6,85.9 L115.8,85.2 L117.1,81.9ZM109.7,77.3 L106.4,78.0 L105.2,81.3 L107.3,84.0 L110.5,83.3 L111.7,79.9ZM110.5,83.3 L107.3,84.0 L106.0,87.3 L108.1,90.0 L111.4,89.2 L112.6,85.9ZM111.4,89.2 L108.1,90.0 L106.9,93.3 L108.9,95.9 L112.2,95.2 L113.4,91.9ZM106.0,87.3 L102.8,88.0 L101.6,91.4 L103.6,94.0 L106.9,93.3 L108.1,90.0ZM106.9,93.3 L103.6,94.0 L102.4,97.3 L104.5,100.0 L107.7,99.3 L108.9,95.9ZM107.7,99.3 L104.5,100.0 L103.2,103.3 L105.3,106.0 L108.6,105.2 L109.8,101.9ZM102.4,97.3 L99.1,98.0 L97.9,101.4 L100.0,104.0 L103.2,103.3 L104.5,100.0ZM103.2,103.3 L100.0,104.0 L98.8,107.4 L100.8,110.0 L104.1,109.3 L105.3,106.0Z" fill="none" stroke="#8A5E49" stroke-width="1.2" stroke-linejoin="round"/><path d="M117.8,63.2 L118.8,60.4M100.8,110.0 L99.8,112.8" stroke="#93A3D6" stroke-width="1.5" stroke-linecap="round" fill="none"/><path d="M119.9,65.9 L122.4,63.8M114.5,63.9 L113.9,60.7M104.1,109.3 L104.7,112.5M98.8,107.4 L96.2,109.4M117.3,81.2 L118.9,82.6M101.3,92.0 L99.2,92.1" stroke="#E3241C" stroke-width="1.35" stroke-linecap="round" fill="none"/><path d="M105.3,115.5 L102.0,116.2 L100.8,119.5 L102.9,122.2 L106.1,121.5 L107.3,118.1ZM106.1,121.5 L102.9,122.2 L101.6,125.5 L103.7,128.2 L107.0,127.5 L108.2,124.1ZM100.8,119.5 L97.5,120.3 L96.3,123.6 L98.4,126.2 L101.6,125.5 L102.9,122.2ZM101.6,125.5 L98.4,126.2 L97.2,129.6 L99.2,132.2 L102.5,131.5 L103.7,128.2ZM102.5,131.5 L99.2,132.2 L98.0,135.5 L100.1,138.2 L103.3,137.5 L104.5,134.1ZM97.2,129.6 L93.9,130.3 L92.7,133.6 L94.7,136.3 L98.0,135.5 L99.2,132.2ZM98.0,135.5 L94.7,136.3 L93.5,139.6 L95.6,142.2 L98.8,141.5 L100.1,138.2ZM98.8,141.5 L95.6,142.2 L94.4,145.6 L96.4,148.2 L99.7,147.5 L100.9,144.2ZM93.5,139.6 L90.3,140.3 L89.0,143.6 L91.1,146.3 L94.4,145.6 L95.6,142.2ZM94.4,145.6 L91.1,146.3 L89.9,149.6 L91.9,152.3 L95.2,151.5 L96.4,148.2ZM95.2,151.5 L91.9,152.3 L90.7,155.6 L92.8,158.2 L96.0,157.5 L97.3,154.2ZM89.9,149.6 L86.6,150.3 L85.4,153.7 L87.5,156.3 L90.7,155.6 L91.9,152.3ZM90.7,155.6 L87.5,156.3 L86.2,159.6 L88.3,162.3 L91.6,161.6 L92.8,158.2Z" fill="none" stroke="#8A5E49" stroke-width="1.2" stroke-linejoin="round"/><path d="M105.3,115.5 L106.3,112.7M88.3,162.3 L87.3,165.1" stroke="#93A3D6" stroke-width="1.5" stroke-linecap="round" fill="none"/><path d="M107.3,118.1 L109.9,116.1M102.0,116.2 L101.4,113.0M91.6,161.6 L92.2,164.8M86.2,159.6 L83.7,161.7M104.8,133.5 L106.4,134.9M88.8,144.3 L86.7,144.4" stroke="#E3241C" stroke-width="1.35" stroke-linecap="round" fill="none"/><path d="M88.6,173.5 L86.5,175.8 L87.4,179.1 L90.4,180.0 L92.5,177.7 L91.7,174.4ZM92.5,177.7 L90.4,180.0 L91.3,183.3 L94.3,184.2 L96.4,181.9 L95.6,178.6ZM87.4,179.1 L85.2,181.4 L86.1,184.6 L89.1,185.6 L91.3,183.3 L90.4,180.0ZM91.3,183.3 L89.1,185.6 L90.0,188.8 L93.0,189.7 L95.2,187.4 L94.3,184.2ZM95.2,187.4 L93.0,189.7 L93.9,193.0 L96.9,193.9 L99.1,191.6 L98.2,188.4ZM90.0,188.8 L87.8,191.1 L88.7,194.4 L91.7,195.3 L93.9,193.0 L93.0,189.7ZM93.9,193.0 L91.7,195.3 L92.6,198.6 L95.6,199.5 L97.8,197.2 L96.9,193.9ZM97.8,197.2 L95.6,199.5 L96.5,202.7 L99.5,203.7 L101.7,201.3 L100.8,198.1ZM92.6,198.6 L90.4,200.9 L91.3,204.1 L94.3,205.1 L96.5,202.7 L95.6,199.5ZM96.5,202.7 L94.3,205.1 L95.2,208.3 L98.2,209.2 L100.4,206.9 L99.5,203.7ZM100.4,206.9 L98.2,209.2 L99.1,212.5 L102.1,213.4 L104.3,211.1 L103.4,207.8ZM95.2,208.3 L93.1,210.6 L93.9,213.9 L97.0,214.8 L99.1,212.5 L98.2,209.2ZM99.1,212.5 L97.0,214.8 L97.8,218.0 L100.9,219.0 L103.0,216.7 L102.1,213.4Z" fill="none" stroke="#8A5E49" stroke-width="1.2" stroke-linejoin="round"/><path d="M88.6,173.5 L87.9,170.6M100.9,219.0 L101.6,221.9" stroke="#93A3D6" stroke-width="1.5" stroke-linecap="round" fill="none"/><path d="M91.7,174.4 L92.6,171.4M86.5,175.8 L84.1,173.7M103.0,216.7 L105.4,218.8M97.8,218.0 L96.9,221.1M98.0,187.7 L100.1,187.9M91.5,204.8 L89.8,206.1" stroke="#E3241C" stroke-width="1.35" stroke-linecap="round" fill="none"/><path d="M96.2,224.0 L94.1,226.3 L95.0,229.6 L98.0,230.5 L100.1,228.2 L99.3,225.0ZM100.1,228.2 L98.0,230.5 L98.9,233.8 L101.9,234.7 L104.0,232.4 L103.2,229.1ZM95.0,229.6 L92.8,231.9 L93.7,235.2 L96.7,236.1 L98.9,233.8 L98.0,230.5ZM98.9,233.8 L96.7,236.1 L97.6,239.3 L100.6,240.3 L102.8,237.9 L101.9,234.7ZM102.8,237.9 L100.6,240.3 L101.5,243.5 L104.5,244.4 L106.7,242.1 L105.8,238.9ZM97.6,239.3 L95.4,241.7 L96.3,244.9 L99.3,245.8 L101.5,243.5 L100.6,240.3ZM101.5,243.5 L99.3,245.8 L100.2,249.1 L103.2,250.0 L105.4,247.7 L104.5,244.4ZM105.4,247.7 L103.2,250.0 L104.1,253.3 L107.1,254.2 L109.3,251.9 L108.4,248.6ZM100.2,249.1 L98.0,251.4 L98.9,254.6 L101.9,255.6 L104.1,253.3 L103.2,250.0ZM104.1,253.3 L101.9,255.6 L102.8,258.8 L105.8,259.7 L108.0,257.4 L107.1,254.2ZM108.0,257.4 L105.8,259.7 L106.7,263.0 L109.7,263.9 L111.9,261.6 L111.0,258.4ZM102.8,258.8 L100.7,261.1 L101.5,264.4 L104.6,265.3 L106.7,263.0 L105.8,259.7ZM106.7,263.0 L104.6,265.3 L105.4,268.6 L108.5,269.5 L110.6,267.2 L109.7,263.9Z" fill="none" stroke="#8A5E49" stroke-width="1.2" stroke-linejoin="round"/><path d="M96.2,224.0 L95.5,221.1M108.5,269.5 L109.2,272.4" stroke="#93A3D6" stroke-width="1.5" stroke-linecap="round" fill="none"/><path d="M99.3,225.0 L100.2,221.9M94.1,226.3 L91.7,224.2M110.6,267.2 L113.0,269.3M105.4,268.6 L104.5,271.6M105.6,238.2 L107.7,238.4M99.1,255.3 L97.4,256.6" stroke="#E3241C" stroke-width="1.35" stroke-linecap="round" fill="none"/><path d="M108.3,279.6 L105.2,280.4 L104.2,283.6 L106.2,286.0 L109.3,285.3 L110.3,282.1ZM109.3,285.3 L106.2,286.0 L105.1,289.2 L107.2,291.6 L110.2,290.9 L111.3,287.7ZM104.2,283.6 L101.1,284.3 L100.0,287.5 L102.1,290.0 L105.1,289.2 L106.2,286.0ZM105.1,289.2 L102.1,290.0 L101.0,293.2 L103.0,295.6 L106.1,294.8 L107.2,291.6ZM106.1,294.8 L103.0,295.6 L102.0,298.8 L104.0,301.2 L107.1,300.5 L108.1,297.3ZM101.0,293.2 L98.0,293.9 L96.9,297.1 L98.9,299.6 L102.0,298.8 L103.0,295.6ZM102.0,298.8 L98.9,299.6 L97.9,302.8 L99.9,305.2 L103.0,304.4 L104.0,301.2ZM103.0,304.4 L99.9,305.2 L98.9,308.4 L100.9,310.8 L103.9,310.0 L105.0,306.9ZM97.9,302.8 L94.8,303.5 L93.8,306.7 L95.8,309.1 L98.9,308.4 L99.9,305.2ZM98.9,308.4 L95.8,309.1 L94.7,312.3 L96.8,314.8 L99.8,314.0 L100.9,310.8ZM99.8,314.0 L96.8,314.8 L95.7,318.0 L97.7,320.4 L100.8,319.6 L101.9,316.4ZM94.7,312.3 L91.7,313.1 L90.6,316.3 L92.6,318.7 L95.7,318.0 L96.8,314.8ZM95.7,318.0 L92.6,318.7 L91.6,321.9 L93.6,324.4 L96.7,323.6 L97.7,320.4Z" fill="none" stroke="#8A5E49" stroke-width="1.2" stroke-linejoin="round"/><path d="M108.3,279.6 L109.2,276.8M93.6,324.4 L92.7,327.2" stroke="#93A3D6" stroke-width="1.5" stroke-linecap="round" fill="none"/><path d="M110.3,282.1 L112.7,280.0M105.2,280.4 L104.4,277.3M96.7,323.6 L97.5,326.7M91.6,321.9 L89.2,323.9M108.4,296.6 L110.0,298.0M93.5,307.4 L91.4,307.5" stroke="#E3241C" stroke-width="1.35" stroke-linecap="round" fill="none"/><path d="M98.0,329.6 L94.9,330.4 L93.9,333.6 L95.9,336.0 L99.0,335.3 L100.0,332.1ZM99.0,335.3 L95.9,336.0 L94.8,339.2 L96.9,341.7 L99.9,340.9 L101.0,337.7ZM93.9,333.6 L90.8,334.4 L89.7,337.6 L91.8,340.0 L94.8,339.2 L95.9,336.0ZM94.8,339.2 L91.8,340.0 L90.7,343.2 L92.7,345.6 L95.8,344.9 L96.9,341.7ZM95.8,344.9 L92.7,345.6 L91.7,348.8 L93.7,351.2 L96.8,350.5 L97.8,347.3ZM90.7,343.2 L87.7,344.0 L86.6,347.1 L88.6,349.6 L91.7,348.8 L92.7,345.6ZM91.7,348.8 L88.6,349.6 L87.6,352.8 L89.6,355.2 L92.7,354.4 L93.7,351.2ZM92.7,354.4 L89.6,355.2 L88.6,358.4 L90.6,360.8 L93.6,360.1 L94.7,356.9ZM87.6,352.8 L84.5,353.5 L83.5,356.7 L85.5,359.2 L88.6,358.4 L89.6,355.2ZM88.6,358.4 L85.5,359.2 L84.4,362.4 L86.5,364.8 L89.5,364.0 L90.6,360.8ZM89.5,364.0 L86.5,364.8 L85.4,368.0 L87.4,370.4 L90.5,369.7 L91.6,366.5ZM84.4,362.4 L81.4,363.1 L80.3,366.3 L82.3,368.7 L85.4,368.0 L86.5,364.8ZM85.4,368.0 L82.3,368.7 L81.3,371.9 L83.3,374.4 L86.4,373.6 L87.4,370.4Z" fill="none" stroke="#8A5E49" stroke-width="1.2" stroke-linejoin="round"/><path d="M98.0,329.6 L98.9,326.8M83.3,374.4 L82.4,377.2" stroke="#93A3D6" stroke-width="1.5" stroke-linecap="round" fill="none"/><path d="M100.0,332.1 L102.4,330.1M94.9,330.4 L94.1,327.3M86.4,373.6 L87.2,376.7M81.3,371.9 L78.9,374.0M98.1,346.6 L99.7,348.0M83.2,357.4 L81.1,357.5" stroke="#E3241C" stroke-width="1.35" stroke-linecap="round" fill="none"/><path d="M85.1,386.5 L83.0,388.9 L83.9,392.2 L87.0,393.1 L89.1,390.7 L88.2,387.4ZM89.1,390.7 L87.0,393.1 L87.9,396.4 L91.0,397.3 L93.1,394.9 L92.2,391.6ZM83.9,392.2 L81.8,394.6 L82.7,397.9 L85.8,398.8 L87.9,396.4 L87.0,393.1ZM87.9,396.4 L85.8,398.8 L86.7,402.0 L89.8,402.9 L91.9,400.6 L91.0,397.3ZM91.9,400.6 L89.8,402.9 L90.7,406.2 L93.8,407.1 L95.9,404.7 L95.0,401.5ZM86.7,402.0 L84.6,404.4 L85.5,407.7 L88.6,408.6 L90.7,406.2 L89.8,402.9ZM90.7,406.2 L88.6,408.6 L89.5,411.9 L92.6,412.8 L94.7,410.4 L93.8,407.1ZM94.7,410.4 L92.6,412.8 L93.5,416.0 L96.6,417.0 L98.7,414.6 L97.8,411.3ZM89.5,411.9 L87.3,414.2 L88.3,417.5 L91.3,418.4 L93.5,416.0 L92.6,412.8ZM93.5,416.0 L91.3,418.4 L92.3,421.7 L95.3,422.6 L97.5,420.2 L96.6,417.0ZM97.5,420.2 L95.3,422.6 L96.3,425.9 L99.3,426.8 L101.5,424.4 L100.6,421.1ZM92.3,421.7 L90.1,424.1 L91.0,427.4 L94.1,428.3 L96.3,425.9 L95.3,422.6ZM96.3,425.9 L94.1,428.3 L95.0,431.5 L98.1,432.4 L100.3,430.1 L99.3,426.8Z" fill="none" stroke="#8A5E49" stroke-width="1.2" stroke-linejoin="round"/><path d="M85.1,386.5 L84.3,383.7M98.1,432.4 L98.9,435.3" stroke="#93A3D6" stroke-width="1.5" stroke-linecap="round" fill="none"/><path d="M88.2,387.4 L89.1,384.4M83.0,388.9 L80.6,386.8M100.3,430.1 L102.6,432.2M95.0,431.5 L94.1,434.6M94.8,400.8 L97.0,401.0M88.5,418.2 L86.7,419.5" stroke="#E3241C" stroke-width="1.35" stroke-linecap="round" fill="none"/><path d="M93.5,437.6 L91.3,439.9 L92.3,443.2 L95.3,444.1 L97.5,441.7 L96.6,438.5ZM97.5,441.7 L95.3,444.1 L96.3,447.4 L99.3,448.3 L101.5,445.9 L100.6,442.6ZM92.3,443.2 L90.1,445.6 L91.0,448.9 L94.1,449.8 L96.3,447.4 L95.3,444.1ZM96.3,447.4 L94.1,449.8 L95.0,453.0 L98.1,454.0 L100.3,451.6 L99.3,448.3ZM100.3,451.6 L98.1,454.0 L99.0,457.2 L102.1,458.1 L104.3,455.8 L103.3,452.5ZM95.0,453.0 L92.9,455.4 L93.8,458.7 L96.9,459.6 L99.0,457.2 L98.1,454.0ZM99.0,457.2 L96.9,459.6 L97.8,462.9 L100.9,463.8 L103.0,461.4 L102.1,458.1ZM103.0,461.4 L100.9,463.8 L101.8,467.1 L104.9,468.0 L107.0,465.6 L106.1,462.3ZM97.8,462.9 L95.7,465.3 L96.6,468.5 L99.7,469.4 L101.8,467.1 L100.9,463.8ZM101.8,467.1 L99.7,469.4 L100.6,472.7 L103.7,473.6 L105.8,471.2 L104.9,468.0ZM105.8,471.2 L103.7,473.6 L104.6,476.9 L107.7,477.8 L109.8,475.4 L108.9,472.1ZM100.6,472.7 L98.5,475.1 L99.4,478.4 L102.5,479.3 L104.6,476.9 L103.7,473.6ZM104.6,476.9 L102.5,479.3 L103.4,482.6 L106.5,483.5 L108.6,481.1 L107.7,477.8Z" fill="none" stroke="#8A5E49" stroke-width="1.2" stroke-linejoin="round"/><path d="M93.5,437.6 L92.7,434.7M106.5,483.5 L107.3,486.3" stroke="#93A3D6" stroke-width="1.5" stroke-linecap="round" fill="none"/><path d="M96.6,438.5 L97.5,435.4M91.3,439.9 L89.0,437.8M108.6,481.1 L111.0,483.2M103.4,482.6 L102.5,485.6M103.1,451.8 L105.3,452.0M96.8,469.2 L95.1,470.5" stroke="#E3241C" stroke-width="1.35" stroke-linecap="round" fill="none"/><path d="M133.2,63.2 L129.9,63.9 L128.7,67.3 L130.8,69.9 L134.0,69.2 L135.3,65.9ZM134.0,69.2 L130.8,69.9 L129.6,73.2 L131.6,75.9 L134.9,75.2 L136.1,71.8ZM128.7,67.3 L125.5,68.0 L124.2,71.3 L126.3,74.0 L129.6,73.2 L130.8,69.9ZM129.6,73.2 L126.3,74.0 L125.1,77.3 L127.1,79.9 L130.4,79.2 L131.6,75.9ZM130.4,79.2 L127.1,79.9 L125.9,83.3 L128.0,85.9 L131.2,85.2 L132.5,81.9ZM125.1,77.3 L121.8,78.0 L120.6,81.3 L122.7,84.0 L125.9,83.3 L127.1,79.9ZM125.9,83.3 L122.7,84.0 L121.4,87.3 L123.5,90.0 L126.8,89.2 L128.0,85.9ZM126.8,89.2 L123.5,90.0 L122.3,93.3 L124.3,95.9 L127.6,95.2 L128.8,91.9ZM121.4,87.3 L118.2,88.0 L117.0,91.4 L119.0,94.0 L122.3,93.3 L123.5,90.0ZM122.3,93.3 L119.0,94.0 L117.8,97.3 L119.9,100.0 L123.1,99.3 L124.3,95.9ZM123.1,99.3 L119.9,100.0 L118.6,103.3 L120.7,106.0 L124.0,105.2 L125.2,101.9ZM117.8,97.3 L114.5,98.0 L113.3,101.4 L115.4,104.0 L118.6,103.3 L119.9,100.0ZM118.6,103.3 L115.4,104.0 L114.2,107.4 L116.2,110.0 L119.5,109.3 L120.7,106.0Z" fill="none" stroke="#8A5E49" stroke-width="1.2" stroke-linejoin="round"/><path d="M133.2,63.2 L134.2,60.4M116.2,110.0 L115.2,112.8" stroke="#93A3D6" stroke-width="1.5" stroke-linecap="round" fill="none"/><path d="M135.3,65.9 L137.8,63.8M129.9,63.9 L129.3,60.7M119.5,109.3 L120.1,112.5M114.2,107.4 L111.6,109.4M132.7,81.2 L134.3,82.6M116.7,92.0 L114.6,92.1" stroke="#E3241C" stroke-width="1.35" stroke-linecap="round" fill="none"/><path d="M120.7,115.5 L117.4,116.2 L116.2,119.5 L118.3,122.2 L121.5,121.5 L122.7,118.1ZM121.5,121.5 L118.3,122.2 L117.0,125.5 L119.1,128.2 L122.4,127.5 L123.6,124.1ZM116.2,119.5 L112.9,120.3 L111.7,123.6 L113.8,126.2 L117.0,125.5 L118.3,122.2ZM117.0,125.5 L113.8,126.2 L112.6,129.6 L114.6,132.2 L117.9,131.5 L119.1,128.2ZM117.9,131.5 L114.6,132.2 L113.4,135.5 L115.5,138.2 L118.7,137.5 L119.9,134.1ZM112.6,129.6 L109.3,130.3 L108.1,133.6 L110.1,136.3 L113.4,135.5 L114.6,132.2ZM113.4,135.5 L110.1,136.3 L108.9,139.6 L111.0,142.2 L114.2,141.5 L115.5,138.2ZM114.2,141.5 L111.0,142.2 L109.8,145.6 L111.8,148.2 L115.1,147.5 L116.3,144.2ZM108.9,139.6 L105.7,140.3 L104.4,143.6 L106.5,146.3 L109.8,145.6 L111.0,142.2ZM109.8,145.6 L106.5,146.3 L105.3,149.6 L107.3,152.3 L110.6,151.5 L111.8,148.2ZM110.6,151.5 L107.3,152.3 L106.1,155.6 L108.2,158.2 L111.4,157.5 L112.7,154.2ZM105.3,149.6 L102.0,150.3 L100.8,153.7 L102.9,156.3 L106.1,155.6 L107.3,152.3ZM106.1,155.6 L102.9,156.3 L101.6,159.6 L103.7,162.3 L107.0,161.6 L108.2,158.2Z" fill="none" stroke="#8A5E49" stroke-width="1.2" stroke-linejoin="round"/><path d="M120.7,115.5 L121.7,112.7M103.7,162.3 L102.7,165.1" stroke="#93A3D6" stroke-width="1.5" stroke-linecap="round" fill="none"/><path d="M122.7,118.1 L125.3,116.1M117.4,116.2 L116.8,113.0M107.0,161.6 L107.6,164.8M101.6,159.6 L99.1,161.7M120.2,133.5 L121.8,134.9M104.2,144.3 L102.1,144.4" stroke="#E3241C" stroke-width="1.35" stroke-linecap="round" fill="none"/><path d="M104.0,173.5 L101.9,175.8 L102.8,179.1 L105.8,180.0 L107.9,177.7 L107.1,174.4ZM107.9,177.7 L105.8,180.0 L106.7,183.3 L109.7,184.2 L111.8,181.9 L111.0,178.6ZM102.8,179.1 L100.6,181.4 L101.5,184.6 L104.5,185.6 L106.7,183.3 L105.8,180.0ZM106.7,183.3 L104.5,185.6 L105.4,188.8 L108.4,189.7 L110.6,187.4 L109.7,184.2ZM110.6,187.4 L108.4,189.7 L109.3,193.0 L112.3,193.9 L114.5,191.6 L113.6,188.4ZM105.4,188.8 L103.2,191.1 L104.1,194.4 L107.1,195.3 L109.3,193.0 L108.4,189.7ZM109.3,193.0 L107.1,195.3 L108.0,198.6 L111.0,199.5 L113.2,197.2 L112.3,193.9ZM113.2,197.2 L111.0,199.5 L111.9,202.7 L114.9,203.7 L117.1,201.3 L116.2,198.1ZM108.0,198.6 L105.8,200.9 L106.7,204.1 L109.7,205.1 L111.9,202.7 L111.0,199.5ZM111.9,202.7 L109.7,205.1 L110.6,208.3 L113.6,209.2 L115.8,206.9 L114.9,203.7ZM115.8,206.9 L113.6,209.2 L114.5,212.5 L117.5,213.4 L119.7,211.1 L118.8,207.8ZM110.6,208.3 L108.5,210.6 L109.3,213.9 L112.4,214.8 L114.5,212.5 L113.6,209.2ZM114.5,212.5 L112.4,214.8 L113.2,218.0 L116.3,219.0 L118.4,216.7 L117.5,213.4Z" fill="none" stroke="#8A5E49" stroke-width="1.2" stroke-linejoin="round"/><path d="M104.0,173.5 L103.3,170.6M116.3,219.0 L117.0,221.9" stroke="#93A3D6" stroke-width="1.5" stroke-linecap="round" fill="none"/><path d="M107.1,174.4 L108.0,171.4M101.9,175.8 L99.5,173.7M118.4,216.7 L120.8,218.8M113.2,218.0 L112.3,221.1M113.4,187.7 L115.5,187.9M106.9,204.8 L105.2,206.1" stroke="#E3241C" stroke-width="1.35" stroke-linecap="round" fill="none"/><path d="M111.6,224.0 L109.5,226.3 L110.4,229.6 L113.4,230.5 L115.5,228.2 L114.7,225.0ZM115.5,228.2 L113.4,230.5 L114.3,233.8 L117.3,234.7 L119.4,232.4 L118.6,229.1ZM110.4,229.6 L108.2,231.9 L109.1,235.2 L112.1,236.1 L114.3,233.8 L113.4,230.5ZM114.3,233.8 L112.1,236.1 L113.0,239.3 L116.0,240.3 L118.2,237.9 L117.3,234.7ZM118.2,237.9 L116.0,240.3 L116.9,243.5 L119.9,244.4 L122.1,242.1 L121.2,238.9ZM113.0,239.3 L110.8,241.7 L111.7,244.9 L114.7,245.8 L116.9,243.5 L116.0,240.3ZM116.9,243.5 L114.7,245.8 L115.6,249.1 L118.6,250.0 L120.8,247.7 L119.9,244.4ZM120.8,247.7 L118.6,250.0 L119.5,253.3 L122.5,254.2 L124.7,251.9 L123.8,248.6ZM115.6,249.1 L113.4,251.4 L114.3,254.6 L117.3,255.6 L119.5,253.3 L118.6,250.0ZM119.5,253.3 L117.3,255.6 L118.2,258.8 L121.2,259.7 L123.4,257.4 L122.5,254.2ZM123.4,257.4 L121.2,259.7 L122.1,263.0 L125.1,263.9 L127.3,261.6 L126.4,258.4ZM118.2,258.8 L116.1,261.1 L116.9,264.4 L120.0,265.3 L122.1,263.0 L121.2,259.7ZM122.1,263.0 L120.0,265.3 L120.8,268.6 L123.9,269.5 L126.0,267.2 L125.1,263.9Z" fill="none" stroke="#8A5E49" stroke-width="1.2" stroke-linejoin="round"/><path d="M111.6,224.0 L110.9,221.1M123.9,269.5 L124.6,272.4" stroke="#93A3D6" stroke-width="1.5" stroke-linecap="round" fill="none"/><path d="M114.7,225.0 L115.6,221.9M109.5,226.3 L107.1,224.2M126.0,267.2 L128.4,269.3M120.8,268.6 L119.9,271.6M121.0,238.2 L123.1,238.4M114.5,255.3 L112.8,256.6" stroke="#E3241C" stroke-width="1.35" stroke-linecap="round" fill="none"/><path d="M123.7,279.6 L120.6,280.4 L119.6,283.6 L121.6,286.0 L124.7,285.3 L125.7,282.1ZM124.7,285.3 L121.6,286.0 L120.5,289.2 L122.6,291.6 L125.6,290.9 L126.7,287.7ZM119.6,283.6 L116.5,284.3 L115.4,287.5 L117.5,290.0 L120.5,289.2 L121.6,286.0ZM120.5,289.2 L117.5,290.0 L116.4,293.2 L118.4,295.6 L121.5,294.8 L122.6,291.6ZM121.5,294.8 L118.4,295.6 L117.4,298.8 L119.4,301.2 L122.5,300.5 L123.5,297.3ZM116.4,293.2 L113.4,293.9 L112.3,297.1 L114.3,299.6 L117.4,298.8 L118.4,295.6ZM117.4,298.8 L114.3,299.6 L113.3,302.8 L115.3,305.2 L118.4,304.4 L119.4,301.2ZM118.4,304.4 L115.3,305.2 L114.3,308.4 L116.3,310.8 L119.3,310.0 L120.4,306.9ZM113.3,302.8 L110.2,303.5 L109.2,306.7 L111.2,309.1 L114.3,308.4 L115.3,305.2ZM114.3,308.4 L111.2,309.1 L110.1,312.3 L112.2,314.8 L115.2,314.0 L116.3,310.8ZM115.2,314.0 L112.2,314.8 L111.1,318.0 L113.1,320.4 L116.2,319.6 L117.3,316.4ZM110.1,312.3 L107.1,313.1 L106.0,316.3 L108.0,318.7 L111.1,318.0 L112.2,314.8ZM111.1,318.0 L108.0,318.7 L107.0,321.9 L109.0,324.4 L112.1,323.6 L113.1,320.4Z" fill="none" stroke="#8A5E49" stroke-width="1.2" stroke-linejoin="round"/><path d="M123.7,279.6 L124.6,276.8M109.0,324.4 L108.1,327.2" stroke="#93A3D6" stroke-width="1.5" stroke-linecap="round" fill="none"/><path d="M125.7,282.1 L128.1,280.0M120.6,280.4 L119.8,277.3M112.1,323.6 L112.9,326.7M107.0,321.9 L104.6,323.9M123.8,296.6 L125.4,298.0M108.9,307.4 L106.8,307.5" stroke="#E3241C" stroke-width="1.35" stroke-linecap="round" fill="none"/><path d="M113.4,329.6 L110.3,330.4 L109.3,333.6 L111.3,336.0 L114.4,335.3 L115.4,332.1ZM114.4,335.3 L111.3,336.0 L110.2,339.2 L112.3,341.7 L115.3,340.9 L116.4,337.7ZM109.3,333.6 L106.2,334.4 L105.1,337.6 L107.2,340.0 L110.2,339.2 L111.3,336.0ZM110.2,339.2 L107.2,340.0 L106.1,343.2 L108.1,345.6 L111.2,344.9 L112.3,341.7ZM111.2,344.9 L108.1,345.6 L107.1,348.8 L109.1,351.2 L112.2,350.5 L113.2,347.3ZM106.1,343.2 L103.1,344.0 L102.0,347.1 L104.0,349.6 L107.1,348.8 L108.1,345.6ZM107.1,348.8 L104.0,349.6 L103.0,352.8 L105.0,355.2 L108.1,354.4 L109.1,351.2ZM108.1,354.4 L105.0,355.2 L104.0,358.4 L106.0,360.8 L109.0,360.1 L110.1,356.9ZM103.0,352.8 L99.9,353.5 L98.9,356.7 L100.9,359.2 L104.0,358.4 L105.0,355.2ZM104.0,358.4 L100.9,359.2 L99.8,362.4 L101.9,364.8 L104.9,364.0 L106.0,360.8ZM104.9,364.0 L101.9,364.8 L100.8,368.0 L102.8,370.4 L105.9,369.7 L107.0,366.5ZM99.8,362.4 L96.8,363.1 L95.7,366.3 L97.7,368.7 L100.8,368.0 L101.9,364.8ZM100.8,368.0 L97.7,368.7 L96.7,371.9 L98.7,374.4 L101.8,373.6 L102.8,370.4Z" fill="none" stroke="#8A5E49" stroke-width="1.2" stroke-linejoin="round"/><path d="M113.4,329.6 L114.3,326.8M98.7,374.4 L97.8,377.2" stroke="#93A3D6" stroke-width="1.5" stroke-linecap="round" fill="none"/><path d="M115.4,332.1 L117.8,330.1M110.3,330.4 L109.5,327.3M101.8,373.6 L102.6,376.7M96.7,371.9 L94.3,374.0M113.5,346.6 L115.1,348.0M98.6,357.4 L96.5,357.5" stroke="#E3241C" stroke-width="1.35" stroke-linecap="round" fill="none"/><path d="M100.5,386.5 L98.4,388.9 L99.3,392.2 L102.4,393.1 L104.5,390.7 L103.6,387.4ZM104.5,390.7 L102.4,393.1 L103.3,396.4 L106.4,397.3 L108.5,394.9 L107.6,391.6ZM99.3,392.2 L97.2,394.6 L98.1,397.9 L101.2,398.8 L103.3,396.4 L102.4,393.1ZM103.3,396.4 L101.2,398.8 L102.1,402.0 L105.2,402.9 L107.3,400.6 L106.4,397.3ZM107.3,400.6 L105.2,402.9 L106.1,406.2 L109.2,407.1 L111.3,404.7 L110.4,401.5ZM102.1,402.0 L100.0,404.4 L100.9,407.7 L104.0,408.6 L106.1,406.2 L105.2,402.9ZM106.1,406.2 L104.0,408.6 L104.9,411.9 L108.0,412.8 L110.1,410.4 L109.2,407.1ZM110.1,410.4 L108.0,412.8 L108.9,416.0 L112.0,417.0 L114.1,414.6 L113.2,411.3ZM104.9,411.9 L102.7,414.2 L103.7,417.5 L106.7,418.4 L108.9,416.0 L108.0,412.8ZM108.9,416.0 L106.7,418.4 L107.7,421.7 L110.7,422.6 L112.9,420.2 L112.0,417.0ZM112.9,420.2 L110.7,422.6 L111.7,425.9 L114.7,426.8 L116.9,424.4 L116.0,421.1ZM107.7,421.7 L105.5,424.1 L106.4,427.4 L109.5,428.3 L111.7,425.9 L110.7,422.6ZM111.7,425.9 L109.5,428.3 L110.4,431.5 L113.5,432.4 L115.7,430.1 L114.7,426.8Z" fill="none" stroke="#8A5E49" stroke-width="1.2" stroke-linejoin="round"/><path d="M100.5,386.5 L99.7,383.7M113.5,432.4 L114.3,435.3" stroke="#93A3D6" stroke-width="1.5" stroke-linecap="round" fill="none"/><path d="M103.6,387.4 L104.5,384.4M98.4,388.9 L96.0,386.8M115.7,430.1 L118.0,432.2M110.4,431.5 L109.5,434.6M110.2,400.8 L112.4,401.0M103.9,418.2 L102.1,419.5" stroke="#E3241C" stroke-width="1.35" stroke-linecap="round" fill="none"/><path d="M108.9,437.6 L106.7,439.9 L107.7,443.2 L110.7,444.1 L112.9,441.7 L112.0,438.5ZM112.9,441.7 L110.7,444.1 L111.7,447.4 L114.7,448.3 L116.9,445.9 L116.0,442.6ZM107.7,443.2 L105.5,445.6 L106.4,448.9 L109.5,449.8 L111.7,447.4 L110.7,444.1ZM111.7,447.4 L109.5,449.8 L110.4,453.0 L113.5,454.0 L115.7,451.6 L114.7,448.3ZM115.7,451.6 L113.5,454.0 L114.4,457.2 L117.5,458.1 L119.7,455.8 L118.7,452.5ZM110.4,453.0 L108.3,455.4 L109.2,458.7 L112.3,459.6 L114.4,457.2 L113.5,454.0ZM114.4,457.2 L112.3,459.6 L113.2,462.9 L116.3,463.8 L118.4,461.4 L117.5,458.1ZM118.4,461.4 L116.3,463.8 L117.2,467.1 L120.3,468.0 L122.4,465.6 L121.5,462.3ZM113.2,462.9 L111.1,465.3 L112.0,468.5 L115.1,469.4 L117.2,467.1 L116.3,463.8ZM117.2,467.1 L115.1,469.4 L116.0,472.7 L119.1,473.6 L121.2,471.2 L120.3,468.0ZM121.2,471.2 L119.1,473.6 L120.0,476.9 L123.1,477.8 L125.2,475.4 L124.3,472.1ZM116.0,472.7 L113.9,475.1 L114.8,478.4 L117.9,479.3 L120.0,476.9 L119.1,473.6ZM120.0,476.9 L117.9,479.3 L118.8,482.6 L121.9,483.5 L124.0,481.1 L123.1,477.8Z" fill="none" stroke="#8A5E49" stroke-width="1.2" stroke-linejoin="round"/><path d="M108.9,437.6 L108.1,434.7M121.9,483.5 L122.7,486.3" stroke="#93A3D6" stroke-width="1.5" stroke-linecap="round" fill="none"/><path d="M112.0,438.5 L112.9,435.4M106.7,439.9 L104.4,437.8M124.0,481.1 L126.4,483.2M118.8,482.6 L117.9,485.6M118.5,451.8 L120.7,452.0M112.2,469.2 L110.5,470.5" stroke="#E3241C" stroke-width="1.35" stroke-linecap="round" fill="none"/></g>
<g filter="url(#fSoft)"><path d="M656.0,69.8 L652.7,70.5 L651.4,73.9 L653.5,76.6 L656.8,75.9 L658.1,72.5ZM656.8,75.9 L653.5,76.6 L652.2,80.0 L654.2,82.8 L657.6,82.1 L658.9,78.7ZM651.4,73.9 L648.0,74.6 L646.7,78.0 L648.8,80.7 L652.2,80.0 L653.5,76.6ZM652.2,80.0 L648.8,80.7 L647.5,84.2 L649.6,86.9 L653.0,86.2 L654.2,82.8ZM653.0,86.2 L649.6,86.9 L648.3,90.3 L650.4,93.1 L653.7,92.4 L655.0,88.9ZM647.5,84.2 L644.1,84.8 L642.8,88.3 L644.9,91.0 L648.3,90.3 L649.6,86.9ZM648.3,90.3 L644.9,91.0 L643.6,94.4 L645.7,97.2 L649.1,96.5 L650.4,93.1ZM649.1,96.5 L645.7,97.2 L644.4,100.6 L646.5,103.3 L649.9,102.6 L651.2,99.2ZM643.6,94.4 L640.3,95.1 L639.0,98.5 L641.0,101.3 L644.4,100.6 L645.7,97.2ZM644.4,100.6 L641.0,101.3 L639.8,104.7 L641.8,107.4 L645.2,106.7 L646.5,103.3ZM645.2,106.7 L641.8,107.4 L640.6,110.8 L642.6,113.6 L646.0,112.9 L647.3,109.5ZM639.8,104.7 L636.4,105.4 L635.1,108.8 L637.2,111.5 L640.6,110.8 L641.8,107.4ZM640.6,110.8 L637.2,111.5 L635.9,115.0 L638.0,117.7 L641.3,117.0 L642.6,113.6Z" fill="none" stroke="#8A5E49" stroke-width="1.2" stroke-linejoin="round"/><path d="M656.0,69.8 L657.1,67.0M638.0,117.7 L636.9,120.5" stroke="#93A3D6" stroke-width="1.5" stroke-linecap="round" fill="none"/><path d="M658.1,72.5 L660.7,70.5M652.7,70.5 L652.1,67.2M641.3,117.0 L641.9,120.3M635.9,115.0 L633.3,117.0M655.3,88.3 L656.9,89.8M638.7,99.2 L636.6,99.2" stroke="#E3241C" stroke-width="1.35" stroke-linecap="round" fill="none"/><path d="M642.5,123.3 L639.2,124.0 L637.9,127.4 L639.9,130.2 L643.3,129.5 L644.6,126.0ZM643.3,129.5 L639.9,130.2 L638.7,133.6 L640.7,136.3 L644.1,135.6 L645.4,132.2ZM637.9,127.4 L634.5,128.1 L633.2,131.5 L635.3,134.3 L638.7,133.6 L639.9,130.2ZM638.7,133.6 L635.3,134.3 L634.0,137.7 L636.1,140.4 L639.5,139.7 L640.7,136.3ZM639.5,139.7 L636.1,140.4 L634.8,143.8 L636.9,146.6 L640.2,145.9 L641.5,142.5ZM634.0,137.7 L630.6,138.4 L629.3,141.8 L631.4,144.5 L634.8,143.8 L636.1,140.4ZM634.8,143.8 L631.4,144.5 L630.1,147.9 L632.2,150.7 L635.6,150.0 L636.9,146.6ZM635.6,150.0 L632.2,150.7 L630.9,154.1 L633.0,156.8 L636.4,156.2 L637.7,152.7ZM630.1,147.9 L626.8,148.6 L625.5,152.1 L627.5,154.8 L630.9,154.1 L632.2,150.7ZM630.9,154.1 L627.5,154.8 L626.3,158.2 L628.3,161.0 L631.7,160.3 L633.0,156.8ZM631.7,160.3 L628.3,161.0 L627.0,164.4 L629.1,167.1 L632.5,166.4 L633.8,163.0ZM626.3,158.2 L622.9,158.9 L621.6,162.3 L623.7,165.1 L627.0,164.4 L628.3,161.0ZM627.0,164.4 L623.7,165.1 L622.4,168.5 L624.5,171.2 L627.8,170.5 L629.1,167.1Z" fill="none" stroke="#8A5E49" stroke-width="1.2" stroke-linejoin="round"/><path d="M642.5,123.3 L643.6,120.5M624.5,171.2 L623.4,174.0" stroke="#93A3D6" stroke-width="1.5" stroke-linecap="round" fill="none"/><path d="M644.6,126.0 L647.2,124.0M639.2,124.0 L638.6,120.7M627.8,170.5 L628.4,173.8M622.4,168.5 L619.8,170.5M641.8,141.8 L643.4,143.3M625.2,152.7 L623.1,152.7" stroke="#E3241C" stroke-width="1.35" stroke-linecap="round" fill="none"/><path d="M624.9,183.5 L622.7,185.9 L623.6,189.1 L626.7,190.0 L628.8,187.7 L627.9,184.4ZM628.8,187.7 L626.7,190.0 L627.6,193.3 L630.6,194.2 L632.8,191.8 L631.8,188.6ZM623.6,189.1 L621.5,191.5 L622.4,194.7 L625.4,195.6 L627.6,193.3 L626.7,190.0ZM627.6,193.3 L625.4,195.6 L626.4,198.9 L629.4,199.8 L631.5,197.4 L630.6,194.2ZM631.5,197.4 L629.4,199.8 L630.3,203.0 L633.3,203.9 L635.5,201.6 L634.6,198.3ZM626.4,198.9 L624.2,201.2 L625.1,204.4 L628.2,205.3 L630.3,203.0 L629.4,199.8ZM630.3,203.0 L628.2,205.3 L629.1,208.6 L632.1,209.5 L634.2,207.1 L633.3,203.9ZM634.2,207.1 L632.1,209.5 L633.0,212.7 L636.1,213.6 L638.2,211.3 L637.3,208.0ZM629.1,208.6 L626.9,210.9 L627.8,214.2 L630.9,215.1 L633.0,212.7 L632.1,209.5ZM633.0,212.7 L630.9,215.1 L631.8,218.3 L634.8,219.2 L637.0,216.9 L636.1,213.6ZM637.0,216.9 L634.8,219.2 L635.7,222.5 L638.8,223.4 L640.9,221.0 L640.0,217.8ZM631.8,218.3 L629.7,220.7 L630.6,223.9 L633.6,224.8 L635.7,222.5 L634.8,219.2ZM635.7,222.5 L633.6,224.8 L634.5,228.1 L637.5,229.0 L639.7,226.6 L638.8,223.4Z" fill="none" stroke="#8A5E49" stroke-width="1.2" stroke-linejoin="round"/><path d="M624.9,183.5 L624.1,180.6M637.5,229.0 L638.4,231.8" stroke="#93A3D6" stroke-width="1.5" stroke-linecap="round" fill="none"/><path d="M627.9,184.4 L628.8,181.4M622.7,185.9 L620.4,183.7M639.7,226.6 L642.0,228.7M634.5,228.1 L633.6,231.1M634.4,197.6 L636.5,197.9M628.0,214.9 L626.3,216.2" stroke="#E3241C" stroke-width="1.35" stroke-linecap="round" fill="none"/><path d="M633.0,234.0 L630.8,236.4 L631.7,239.6 L634.8,240.5 L636.9,238.2 L636.0,234.9ZM636.9,238.2 L634.8,240.5 L635.7,243.8 L638.7,244.7 L640.8,242.3 L639.9,239.1ZM631.7,239.6 L629.6,242.0 L630.5,245.2 L633.5,246.1 L635.7,243.8 L634.8,240.5ZM635.7,243.8 L633.5,246.1 L634.4,249.4 L637.5,250.3 L639.6,247.9 L638.7,244.7ZM639.6,247.9 L637.5,250.3 L638.4,253.5 L641.4,254.4 L643.6,252.1 L642.7,248.8ZM634.4,249.4 L632.3,251.7 L633.2,255.0 L636.3,255.9 L638.4,253.5 L637.5,250.3ZM638.4,253.5 L636.3,255.9 L637.2,259.1 L640.2,260.0 L642.3,257.7 L641.4,254.4ZM642.3,257.7 L640.2,260.0 L641.1,263.2 L644.1,264.1 L646.3,261.8 L645.4,258.6ZM637.2,259.1 L635.0,261.4 L635.9,264.7 L639.0,265.6 L641.1,263.2 L640.2,260.0ZM641.1,263.2 L639.0,265.6 L639.9,268.8 L642.9,269.7 L645.1,267.4 L644.1,264.1ZM645.1,267.4 L642.9,269.7 L643.8,273.0 L646.9,273.9 L649.0,271.5 L648.1,268.3ZM639.9,268.8 L637.7,271.2 L638.7,274.4 L641.7,275.3 L643.8,273.0 L642.9,269.7ZM643.8,273.0 L641.7,275.3 L642.6,278.6 L645.6,279.5 L647.8,277.1 L646.9,273.9Z" fill="none" stroke="#8A5E49" stroke-width="1.2" stroke-linejoin="round"/><path d="M633.0,234.0 L632.1,231.2M645.6,279.5 L646.4,282.4" stroke="#93A3D6" stroke-width="1.5" stroke-linecap="round" fill="none"/><path d="M636.0,234.9 L636.9,231.9M630.8,236.4 L628.5,234.3M647.8,277.1 L650.1,279.3M642.6,278.6 L641.7,281.6M642.5,248.1 L644.6,248.4M636.1,265.4 L634.4,266.7" stroke="#E3241C" stroke-width="1.35" stroke-linecap="round" fill="none"/><path d="M643.9,289.6 L641.0,290.3 L640.0,293.4 L641.9,295.8 L644.9,295.0 L645.9,291.9ZM644.9,295.0 L641.9,295.8 L641.0,298.9 L642.9,301.2 L645.9,300.4 L646.9,297.3ZM640.0,293.4 L637.0,294.2 L636.0,297.3 L638.0,299.6 L641.0,298.9 L641.9,295.8ZM641.0,298.9 L638.0,299.6 L637.0,302.7 L639.0,305.1 L642.0,304.3 L642.9,301.2ZM642.0,304.3 L639.0,305.1 L638.0,308.1 L640.0,310.5 L642.9,309.7 L643.9,306.6ZM637.0,302.7 L634.1,303.5 L633.1,306.6 L635.1,308.9 L638.0,308.1 L639.0,305.1ZM638.0,308.1 L635.1,308.9 L634.1,312.0 L636.0,314.3 L639.0,313.6 L640.0,310.5ZM639.0,313.6 L636.0,314.3 L635.1,317.4 L637.0,319.8 L640.0,319.0 L641.0,315.9ZM634.1,312.0 L631.1,312.8 L630.1,315.9 L632.1,318.2 L635.1,317.4 L636.0,314.3ZM635.1,317.4 L632.1,318.2 L631.1,321.3 L633.1,323.6 L636.0,322.9 L637.0,319.8ZM636.0,322.9 L633.1,323.6 L632.1,326.7 L634.1,329.0 L637.0,328.3 L638.0,325.2ZM631.1,321.3 L628.2,322.0 L627.2,325.1 L629.2,327.5 L632.1,326.7 L633.1,323.6ZM632.1,326.7 L629.2,327.5 L628.2,330.6 L630.1,332.9 L633.1,332.1 L634.1,329.0Z" fill="none" stroke="#8A5E49" stroke-width="1.2" stroke-linejoin="round"/><path d="M643.9,289.6 L644.8,286.7M630.1,332.9 L629.2,335.8" stroke="#93A3D6" stroke-width="1.5" stroke-linecap="round" fill="none"/><path d="M645.9,291.9 L648.3,289.9M641.0,290.3 L640.1,287.3M633.1,332.1 L633.9,335.1M628.2,330.6 L625.8,332.6M644.1,305.9 L645.8,307.3M629.9,316.5 L627.8,316.7" stroke="#E3241C" stroke-width="1.35" stroke-linecap="round" fill="none"/><path d="M634.4,338.1 L631.4,338.9 L630.4,342.0 L632.4,344.3 L635.3,343.5 L636.3,340.4ZM635.3,343.5 L632.4,344.3 L631.4,347.4 L633.4,349.7 L636.3,349.0 L637.3,345.9ZM630.4,342.0 L627.5,342.7 L626.5,345.8 L628.5,348.1 L631.4,347.4 L632.4,344.3ZM631.4,347.4 L628.5,348.1 L627.5,351.2 L629.4,353.6 L632.4,352.8 L633.4,349.7ZM632.4,352.8 L629.4,353.6 L628.5,356.7 L630.4,359.0 L633.4,358.2 L634.4,355.1ZM627.5,351.2 L624.5,352.0 L623.5,355.1 L625.5,357.4 L628.5,356.7 L629.4,353.6ZM628.5,356.7 L625.5,357.4 L624.5,360.5 L626.5,362.9 L629.4,362.1 L630.4,359.0ZM629.4,362.1 L626.5,362.9 L625.5,365.9 L627.5,368.3 L630.4,367.5 L631.4,364.4ZM624.5,360.5 L621.6,361.3 L620.6,364.4 L622.5,366.7 L625.5,365.9 L626.5,362.9ZM625.5,365.9 L622.5,366.7 L621.6,369.8 L623.5,372.1 L626.5,371.4 L627.5,368.3ZM626.5,371.4 L623.5,372.1 L622.6,375.2 L624.5,377.6 L627.5,376.8 L628.5,373.7ZM621.6,369.8 L618.6,370.6 L617.6,373.7 L619.6,376.0 L622.6,375.2 L623.5,372.1ZM622.6,375.2 L619.6,376.0 L618.6,379.1 L620.6,381.4 L623.5,380.7 L624.5,377.6Z" fill="none" stroke="#8A5E49" stroke-width="1.2" stroke-linejoin="round"/><path d="M634.4,338.1 L635.3,335.2M620.6,381.4 L619.7,384.3" stroke="#93A3D6" stroke-width="1.5" stroke-linecap="round" fill="none"/><path d="M636.3,340.4 L638.7,338.4M631.4,338.9 L630.6,335.9M623.5,380.7 L624.4,383.7M618.6,379.1 L616.2,381.1M634.6,354.5 L636.2,355.8M620.4,365.1 L618.2,365.2" stroke="#E3241C" stroke-width="1.35" stroke-linecap="round" fill="none"/><path d="M623.7,394.5 L621.4,396.7 L622.2,400.1 L625.3,401.1 L627.5,398.8 L626.7,395.5ZM627.5,398.8 L625.3,401.1 L626.0,404.4 L629.1,405.5 L631.3,403.2 L630.6,399.9ZM622.2,400.1 L620.0,402.4 L620.7,405.7 L623.8,406.7 L626.0,404.4 L625.3,401.1ZM626.0,404.4 L623.8,406.7 L624.6,410.1 L627.6,411.1 L629.9,408.8 L629.1,405.5ZM629.9,408.8 L627.6,411.1 L628.4,414.4 L631.4,415.5 L633.7,413.2 L632.9,409.8ZM624.6,410.1 L622.3,412.3 L623.1,415.7 L626.1,416.7 L628.4,414.4 L627.6,411.1ZM628.4,414.4 L626.1,416.7 L626.9,420.0 L630.0,421.1 L632.2,418.8 L631.4,415.5ZM632.2,418.8 L630.0,421.1 L630.8,424.4 L633.8,425.4 L636.1,423.1 L635.3,419.8ZM626.9,420.0 L624.7,422.3 L625.5,425.7 L628.5,426.7 L630.8,424.4 L630.0,421.1ZM630.8,424.4 L628.5,426.7 L629.3,430.0 L632.3,431.1 L634.6,428.8 L633.8,425.4ZM634.6,428.8 L632.3,431.1 L633.1,434.4 L636.2,435.4 L638.4,433.1 L637.6,429.8ZM629.3,430.0 L627.0,432.3 L627.8,435.6 L630.9,436.7 L633.1,434.4 L632.3,431.1ZM633.1,434.4 L630.9,436.7 L631.6,440.0 L634.7,441.0 L636.9,438.8 L636.2,435.4Z" fill="none" stroke="#8A5E49" stroke-width="1.2" stroke-linejoin="round"/><path d="M623.7,394.5 L623.0,391.5M634.7,441.0 L635.4,444.0" stroke="#93A3D6" stroke-width="1.5" stroke-linecap="round" fill="none"/><path d="M626.7,395.5 L627.8,392.5M621.4,396.7 L619.1,394.5M636.9,438.8 L639.2,441.0M631.6,440.0 L630.6,443.0M632.8,409.2 L634.9,409.5M625.6,426.3 L623.9,427.6" stroke="#E3241C" stroke-width="1.35" stroke-linecap="round" fill="none"/><path d="M629.8,446.0 L627.6,448.2 L628.3,451.6 L631.4,452.6 L633.6,450.3 L632.9,447.0ZM633.6,450.3 L631.4,452.6 L632.2,455.9 L635.2,457.0 L637.5,454.7 L636.7,451.4ZM628.3,451.6 L626.1,453.9 L626.9,457.2 L629.9,458.2 L632.2,455.9 L631.4,452.6ZM632.2,455.9 L629.9,458.2 L630.7,461.6 L633.7,462.6 L636.0,460.3 L635.2,457.0ZM636.0,460.3 L633.7,462.6 L634.5,465.9 L637.6,467.0 L639.8,464.7 L639.0,461.3ZM630.7,461.6 L628.4,463.9 L629.2,467.2 L632.3,468.2 L634.5,465.9 L633.7,462.6ZM634.5,465.9 L632.3,468.2 L633.1,471.5 L636.1,472.6 L638.4,470.3 L637.6,467.0ZM638.4,470.3 L636.1,472.6 L636.9,475.9 L639.9,476.9 L642.2,474.7 L641.4,471.3ZM633.1,471.5 L630.8,473.8 L631.6,477.2 L634.6,478.2 L636.9,475.9 L636.1,472.6ZM636.9,475.9 L634.6,478.2 L635.4,481.5 L638.5,482.6 L640.7,480.3 L639.9,476.9ZM640.7,480.3 L638.5,482.6 L639.2,485.9 L642.3,486.9 L644.5,484.6 L643.8,481.3ZM635.4,481.5 L633.2,483.8 L633.9,487.1 L637.0,488.2 L639.2,485.9 L638.5,482.6ZM639.2,485.9 L637.0,488.2 L637.8,491.5 L640.8,492.5 L643.1,490.3 L642.3,486.9Z" fill="none" stroke="#8A5E49" stroke-width="1.2" stroke-linejoin="round"/><path d="M629.8,446.0 L629.1,443.0M640.8,492.5 L641.5,495.5" stroke="#93A3D6" stroke-width="1.5" stroke-linecap="round" fill="none"/><path d="M632.9,447.0 L633.9,444.0M627.6,448.2 L625.3,446.0M643.1,490.3 L645.4,492.5M637.8,491.5 L636.7,494.5M638.9,460.7 L641.0,461.0M631.7,477.8 L630.0,479.1" stroke="#E3241C" stroke-width="1.35" stroke-linecap="round" fill="none"/><path d="M671.4,69.8 L668.1,70.5 L666.8,73.9 L668.9,76.6 L672.2,75.9 L673.5,72.5ZM672.2,75.9 L668.9,76.6 L667.6,80.0 L669.6,82.8 L673.0,82.1 L674.3,78.7ZM666.8,73.9 L663.4,74.6 L662.1,78.0 L664.2,80.7 L667.6,80.0 L668.9,76.6ZM667.6,80.0 L664.2,80.7 L662.9,84.2 L665.0,86.9 L668.4,86.2 L669.6,82.8ZM668.4,86.2 L665.0,86.9 L663.7,90.3 L665.8,93.1 L669.1,92.4 L670.4,88.9ZM662.9,84.2 L659.5,84.8 L658.2,88.3 L660.3,91.0 L663.7,90.3 L665.0,86.9ZM663.7,90.3 L660.3,91.0 L659.0,94.4 L661.1,97.2 L664.5,96.5 L665.8,93.1ZM664.5,96.5 L661.1,97.2 L659.8,100.6 L661.9,103.3 L665.3,102.6 L666.6,99.2ZM659.0,94.4 L655.7,95.1 L654.4,98.5 L656.4,101.3 L659.8,100.6 L661.1,97.2ZM659.8,100.6 L656.4,101.3 L655.2,104.7 L657.2,107.4 L660.6,106.7 L661.9,103.3ZM660.6,106.7 L657.2,107.4 L656.0,110.8 L658.0,113.6 L661.4,112.9 L662.7,109.5ZM655.2,104.7 L651.8,105.4 L650.5,108.8 L652.6,111.5 L656.0,110.8 L657.2,107.4ZM656.0,110.8 L652.6,111.5 L651.3,115.0 L653.4,117.7 L656.7,117.0 L658.0,113.6Z" fill="none" stroke="#8A5E49" stroke-width="1.2" stroke-linejoin="round"/><path d="M671.4,69.8 L672.5,67.0M653.4,117.7 L652.3,120.5" stroke="#93A3D6" stroke-width="1.5" stroke-linecap="round" fill="none"/><path d="M673.5,72.5 L676.1,70.5M668.1,70.5 L667.5,67.2M656.7,117.0 L657.3,120.3M651.3,115.0 L648.7,117.0M670.7,88.3 L672.3,89.8M654.1,99.2 L652.0,99.2" stroke="#E3241C" stroke-width="1.35" stroke-linecap="round" fill="none"/><path d="M657.9,123.3 L654.6,124.0 L653.3,127.4 L655.3,130.2 L658.7,129.5 L660.0,126.0ZM658.7,129.5 L655.3,130.2 L654.1,133.6 L656.1,136.3 L659.5,135.6 L660.8,132.2ZM653.3,127.4 L649.9,128.1 L648.6,131.5 L650.7,134.3 L654.1,133.6 L655.3,130.2ZM654.1,133.6 L650.7,134.3 L649.4,137.7 L651.5,140.4 L654.9,139.7 L656.1,136.3ZM654.9,139.7 L651.5,140.4 L650.2,143.8 L652.3,146.6 L655.6,145.9 L656.9,142.5ZM649.4,137.7 L646.0,138.4 L644.7,141.8 L646.8,144.5 L650.2,143.8 L651.5,140.4ZM650.2,143.8 L646.8,144.5 L645.5,147.9 L647.6,150.7 L651.0,150.0 L652.3,146.6ZM651.0,150.0 L647.6,150.7 L646.3,154.1 L648.4,156.8 L651.8,156.2 L653.1,152.7ZM645.5,147.9 L642.2,148.6 L640.9,152.1 L642.9,154.8 L646.3,154.1 L647.6,150.7ZM646.3,154.1 L642.9,154.8 L641.7,158.2 L643.7,161.0 L647.1,160.3 L648.4,156.8ZM647.1,160.3 L643.7,161.0 L642.4,164.4 L644.5,167.1 L647.9,166.4 L649.2,163.0ZM641.7,158.2 L638.3,158.9 L637.0,162.3 L639.1,165.1 L642.4,164.4 L643.7,161.0ZM642.4,164.4 L639.1,165.1 L637.8,168.5 L639.9,171.2 L643.2,170.5 L644.5,167.1Z" fill="none" stroke="#8A5E49" stroke-width="1.2" stroke-linejoin="round"/><path d="M657.9,123.3 L659.0,120.5M639.9,171.2 L638.8,174.0" stroke="#93A3D6" stroke-width="1.5" stroke-linecap="round" fill="none"/><path d="M660.0,126.0 L662.6,124.0M654.6,124.0 L654.0,120.7M643.2,170.5 L643.8,173.8M637.8,168.5 L635.2,170.5M657.2,141.8 L658.8,143.3M640.6,152.7 L638.5,152.7" stroke="#E3241C" stroke-width="1.35" stroke-linecap="round" fill="none"/><path d="M640.3,183.5 L638.1,185.9 L639.0,189.1 L642.1,190.0 L644.2,187.7 L643.3,184.4ZM644.2,187.7 L642.1,190.0 L643.0,193.3 L646.0,194.2 L648.2,191.8 L647.2,188.6ZM639.0,189.1 L636.9,191.5 L637.8,194.7 L640.8,195.6 L643.0,193.3 L642.1,190.0ZM643.0,193.3 L640.8,195.6 L641.8,198.9 L644.8,199.8 L646.9,197.4 L646.0,194.2ZM646.9,197.4 L644.8,199.8 L645.7,203.0 L648.7,203.9 L650.9,201.6 L650.0,198.3ZM641.8,198.9 L639.6,201.2 L640.5,204.4 L643.6,205.3 L645.7,203.0 L644.8,199.8ZM645.7,203.0 L643.6,205.3 L644.5,208.6 L647.5,209.5 L649.6,207.1 L648.7,203.9ZM649.6,207.1 L647.5,209.5 L648.4,212.7 L651.5,213.6 L653.6,211.3 L652.7,208.0ZM644.5,208.6 L642.3,210.9 L643.2,214.2 L646.3,215.1 L648.4,212.7 L647.5,209.5ZM648.4,212.7 L646.3,215.1 L647.2,218.3 L650.2,219.2 L652.4,216.9 L651.5,213.6ZM652.4,216.9 L650.2,219.2 L651.1,222.5 L654.2,223.4 L656.3,221.0 L655.4,217.8ZM647.2,218.3 L645.1,220.7 L646.0,223.9 L649.0,224.8 L651.1,222.5 L650.2,219.2ZM651.1,222.5 L649.0,224.8 L649.9,228.1 L652.9,229.0 L655.1,226.6 L654.2,223.4Z" fill="none" stroke="#8A5E49" stroke-width="1.2" stroke-linejoin="round"/><path d="M640.3,183.5 L639.5,180.6M652.9,229.0 L653.8,231.8" stroke="#93A3D6" stroke-width="1.5" stroke-linecap="round" fill="none"/><path d="M643.3,184.4 L644.2,181.4M638.1,185.9 L635.8,183.7M655.1,226.6 L657.4,228.7M649.9,228.1 L649.0,231.1M649.8,197.6 L651.9,197.9M643.4,214.9 L641.7,216.2" stroke="#E3241C" stroke-width="1.35" stroke-linecap="round" fill="none"/><path d="M648.4,234.0 L646.2,236.4 L647.1,239.6 L650.2,240.5 L652.3,238.2 L651.4,234.9ZM652.3,238.2 L650.2,240.5 L651.1,243.8 L654.1,244.7 L656.2,242.3 L655.3,239.1ZM647.1,239.6 L645.0,242.0 L645.9,245.2 L648.9,246.1 L651.1,243.8 L650.2,240.5ZM651.1,243.8 L648.9,246.1 L649.8,249.4 L652.9,250.3 L655.0,247.9 L654.1,244.7ZM655.0,247.9 L652.9,250.3 L653.8,253.5 L656.8,254.4 L659.0,252.1 L658.1,248.8ZM649.8,249.4 L647.7,251.7 L648.6,255.0 L651.7,255.9 L653.8,253.5 L652.9,250.3ZM653.8,253.5 L651.7,255.9 L652.6,259.1 L655.6,260.0 L657.7,257.7 L656.8,254.4ZM657.7,257.7 L655.6,260.0 L656.5,263.2 L659.5,264.1 L661.7,261.8 L660.8,258.6ZM652.6,259.1 L650.4,261.4 L651.3,264.7 L654.4,265.6 L656.5,263.2 L655.6,260.0ZM656.5,263.2 L654.4,265.6 L655.3,268.8 L658.3,269.7 L660.5,267.4 L659.5,264.1ZM660.5,267.4 L658.3,269.7 L659.2,273.0 L662.3,273.9 L664.4,271.5 L663.5,268.3ZM655.3,268.8 L653.1,271.2 L654.1,274.4 L657.1,275.3 L659.2,273.0 L658.3,269.7ZM659.2,273.0 L657.1,275.3 L658.0,278.6 L661.0,279.5 L663.2,277.1 L662.3,273.9Z" fill="none" stroke="#8A5E49" stroke-width="1.2" stroke-linejoin="round"/><path d="M648.4,234.0 L647.5,231.2M661.0,279.5 L661.8,282.4" stroke="#93A3D6" stroke-width="1.5" stroke-linecap="round" fill="none"/><path d="M651.4,234.9 L652.3,231.9M646.2,236.4 L643.9,234.3M663.2,277.1 L665.5,279.3M658.0,278.6 L657.1,281.6M657.9,248.1 L660.0,248.4M651.5,265.4 L649.8,266.7" stroke="#E3241C" stroke-width="1.35" stroke-linecap="round" fill="none"/><path d="M659.3,289.6 L656.4,290.3 L655.4,293.4 L657.3,295.8 L660.3,295.0 L661.3,291.9ZM660.3,295.0 L657.3,295.8 L656.4,298.9 L658.3,301.2 L661.3,300.4 L662.3,297.3ZM655.4,293.4 L652.4,294.2 L651.4,297.3 L653.4,299.6 L656.4,298.9 L657.3,295.8ZM656.4,298.9 L653.4,299.6 L652.4,302.7 L654.4,305.1 L657.4,304.3 L658.3,301.2ZM657.4,304.3 L654.4,305.1 L653.4,308.1 L655.4,310.5 L658.3,309.7 L659.3,306.6ZM652.4,302.7 L649.5,303.5 L648.5,306.6 L650.5,308.9 L653.4,308.1 L654.4,305.1ZM653.4,308.1 L650.5,308.9 L649.5,312.0 L651.4,314.3 L654.4,313.6 L655.4,310.5ZM654.4,313.6 L651.4,314.3 L650.5,317.4 L652.4,319.8 L655.4,319.0 L656.4,315.9ZM649.5,312.0 L646.5,312.8 L645.5,315.9 L647.5,318.2 L650.5,317.4 L651.4,314.3ZM650.5,317.4 L647.5,318.2 L646.5,321.3 L648.5,323.6 L651.4,322.9 L652.4,319.8ZM651.4,322.9 L648.5,323.6 L647.5,326.7 L649.5,329.0 L652.4,328.3 L653.4,325.2ZM646.5,321.3 L643.6,322.0 L642.6,325.1 L644.6,327.5 L647.5,326.7 L648.5,323.6ZM647.5,326.7 L644.6,327.5 L643.6,330.6 L645.5,332.9 L648.5,332.1 L649.5,329.0Z" fill="none" stroke="#8A5E49" stroke-width="1.2" stroke-linejoin="round"/><path d="M659.3,289.6 L660.2,286.7M645.5,332.9 L644.6,335.8" stroke="#93A3D6" stroke-width="1.5" stroke-linecap="round" fill="none"/><path d="M661.3,291.9 L663.7,289.9M656.4,290.3 L655.5,287.3M648.5,332.1 L649.3,335.1M643.6,330.6 L641.2,332.6M659.5,305.9 L661.2,307.3M645.3,316.5 L643.2,316.7" stroke="#E3241C" stroke-width="1.35" stroke-linecap="round" fill="none"/><path d="M649.8,338.1 L646.8,338.9 L645.8,342.0 L647.8,344.3 L650.7,343.5 L651.7,340.4ZM650.7,343.5 L647.8,344.3 L646.8,347.4 L648.8,349.7 L651.7,349.0 L652.7,345.9ZM645.8,342.0 L642.9,342.7 L641.9,345.8 L643.9,348.1 L646.8,347.4 L647.8,344.3ZM646.8,347.4 L643.9,348.1 L642.9,351.2 L644.8,353.6 L647.8,352.8 L648.8,349.7ZM647.8,352.8 L644.8,353.6 L643.9,356.7 L645.8,359.0 L648.8,358.2 L649.8,355.1ZM642.9,351.2 L639.9,352.0 L638.9,355.1 L640.9,357.4 L643.9,356.7 L644.8,353.6ZM643.9,356.7 L640.9,357.4 L639.9,360.5 L641.9,362.9 L644.8,362.1 L645.8,359.0ZM644.8,362.1 L641.9,362.9 L640.9,365.9 L642.9,368.3 L645.8,367.5 L646.8,364.4ZM639.9,360.5 L637.0,361.3 L636.0,364.4 L637.9,366.7 L640.9,365.9 L641.9,362.9ZM640.9,365.9 L637.9,366.7 L637.0,369.8 L638.9,372.1 L641.9,371.4 L642.9,368.3ZM641.9,371.4 L638.9,372.1 L638.0,375.2 L639.9,377.6 L642.9,376.8 L643.9,373.7ZM637.0,369.8 L634.0,370.6 L633.0,373.7 L635.0,376.0 L638.0,375.2 L638.9,372.1ZM638.0,375.2 L635.0,376.0 L634.0,379.1 L636.0,381.4 L638.9,380.7 L639.9,377.6Z" fill="none" stroke="#8A5E49" stroke-width="1.2" stroke-linejoin="round"/><path d="M649.8,338.1 L650.7,335.2M636.0,381.4 L635.1,384.3" stroke="#93A3D6" stroke-width="1.5" stroke-linecap="round" fill="none"/><path d="M651.7,340.4 L654.1,338.4M646.8,338.9 L646.0,335.9M638.9,380.7 L639.8,383.7M634.0,379.1 L631.6,381.1M650.0,354.5 L651.6,355.8M635.8,365.1 L633.6,365.2" stroke="#E3241C" stroke-width="1.35" stroke-linecap="round" fill="none"/><path d="M639.1,394.5 L636.8,396.7 L637.6,400.1 L640.7,401.1 L642.9,398.8 L642.1,395.5ZM642.9,398.8 L640.7,401.1 L641.4,404.4 L644.5,405.5 L646.7,403.2 L646.0,399.9ZM637.6,400.1 L635.4,402.4 L636.1,405.7 L639.2,406.7 L641.4,404.4 L640.7,401.1ZM641.4,404.4 L639.2,406.7 L640.0,410.1 L643.0,411.1 L645.3,408.8 L644.5,405.5ZM645.3,408.8 L643.0,411.1 L643.8,414.4 L646.8,415.5 L649.1,413.2 L648.3,409.8ZM640.0,410.1 L637.7,412.3 L638.5,415.7 L641.5,416.7 L643.8,414.4 L643.0,411.1ZM643.8,414.4 L641.5,416.7 L642.3,420.0 L645.4,421.1 L647.6,418.8 L646.8,415.5ZM647.6,418.8 L645.4,421.1 L646.2,424.4 L649.2,425.4 L651.5,423.1 L650.7,419.8ZM642.3,420.0 L640.1,422.3 L640.9,425.7 L643.9,426.7 L646.2,424.4 L645.4,421.1ZM646.2,424.4 L643.9,426.7 L644.7,430.0 L647.7,431.1 L650.0,428.8 L649.2,425.4ZM650.0,428.8 L647.7,431.1 L648.5,434.4 L651.6,435.4 L653.8,433.1 L653.0,429.8ZM644.7,430.0 L642.4,432.3 L643.2,435.6 L646.3,436.7 L648.5,434.4 L647.7,431.1ZM648.5,434.4 L646.3,436.7 L647.0,440.0 L650.1,441.0 L652.3,438.8 L651.6,435.4Z" fill="none" stroke="#8A5E49" stroke-width="1.2" stroke-linejoin="round"/><path d="M639.1,394.5 L638.4,391.5M650.1,441.0 L650.8,444.0" stroke="#93A3D6" stroke-width="1.5" stroke-linecap="round" fill="none"/><path d="M642.1,395.5 L643.2,392.5M636.8,396.7 L634.5,394.5M652.3,438.8 L654.6,441.0M647.0,440.0 L646.0,443.0M648.2,409.2 L650.3,409.5M641.0,426.3 L639.3,427.6" stroke="#E3241C" stroke-width="1.35" stroke-linecap="round" fill="none"/><path d="M645.2,446.0 L643.0,448.2 L643.7,451.6 L646.8,452.6 L649.0,450.3 L648.3,447.0ZM649.0,450.3 L646.8,452.6 L647.6,455.9 L650.6,457.0 L652.9,454.7 L652.1,451.4ZM643.7,451.6 L641.5,453.9 L642.3,457.2 L645.3,458.2 L647.6,455.9 L646.8,452.6ZM647.6,455.9 L645.3,458.2 L646.1,461.6 L649.1,462.6 L651.4,460.3 L650.6,457.0ZM651.4,460.3 L649.1,462.6 L649.9,465.9 L653.0,467.0 L655.2,464.7 L654.4,461.3ZM646.1,461.6 L643.8,463.9 L644.6,467.2 L647.7,468.2 L649.9,465.9 L649.1,462.6ZM649.9,465.9 L647.7,468.2 L648.5,471.5 L651.5,472.6 L653.8,470.3 L653.0,467.0ZM653.8,470.3 L651.5,472.6 L652.3,475.9 L655.3,476.9 L657.6,474.7 L656.8,471.3ZM648.5,471.5 L646.2,473.8 L647.0,477.2 L650.0,478.2 L652.3,475.9 L651.5,472.6ZM652.3,475.9 L650.0,478.2 L650.8,481.5 L653.9,482.6 L656.1,480.3 L655.3,476.9ZM656.1,480.3 L653.9,482.6 L654.6,485.9 L657.7,486.9 L659.9,484.6 L659.2,481.3ZM650.8,481.5 L648.6,483.8 L649.3,487.1 L652.4,488.2 L654.6,485.9 L653.9,482.6ZM654.6,485.9 L652.4,488.2 L653.2,491.5 L656.2,492.5 L658.5,490.3 L657.7,486.9Z" fill="none" stroke="#8A5E49" stroke-width="1.2" stroke-linejoin="round"/><path d="M645.2,446.0 L644.5,443.0M656.2,492.5 L656.9,495.5" stroke="#93A3D6" stroke-width="1.5" stroke-linecap="round" fill="none"/><path d="M648.3,447.0 L649.3,444.0M643.0,448.2 L640.7,446.0M658.5,490.3 L660.8,492.5M653.2,491.5 L652.1,494.5M654.3,460.7 L656.4,461.0M647.1,477.8 L645.4,479.1" stroke="#E3241C" stroke-width="1.35" stroke-linecap="round" fill="none"/><path d="M686.8,69.8 L683.5,70.5 L682.2,73.9 L684.3,76.6 L687.6,75.9 L688.9,72.5ZM687.6,75.9 L684.3,76.6 L683.0,80.0 L685.0,82.8 L688.4,82.1 L689.7,78.7ZM682.2,73.9 L678.8,74.6 L677.5,78.0 L679.6,80.7 L683.0,80.0 L684.3,76.6ZM683.0,80.0 L679.6,80.7 L678.3,84.2 L680.4,86.9 L683.8,86.2 L685.0,82.8ZM683.8,86.2 L680.4,86.9 L679.1,90.3 L681.2,93.1 L684.5,92.4 L685.8,88.9ZM678.3,84.2 L674.9,84.8 L673.6,88.3 L675.7,91.0 L679.1,90.3 L680.4,86.9ZM679.1,90.3 L675.7,91.0 L674.4,94.4 L676.5,97.2 L679.9,96.5 L681.2,93.1ZM679.9,96.5 L676.5,97.2 L675.2,100.6 L677.3,103.3 L680.7,102.6 L682.0,99.2ZM674.4,94.4 L671.1,95.1 L669.8,98.5 L671.8,101.3 L675.2,100.6 L676.5,97.2ZM675.2,100.6 L671.8,101.3 L670.6,104.7 L672.6,107.4 L676.0,106.7 L677.3,103.3ZM676.0,106.7 L672.6,107.4 L671.4,110.8 L673.4,113.6 L676.8,112.9 L678.1,109.5ZM670.6,104.7 L667.2,105.4 L665.9,108.8 L668.0,111.5 L671.4,110.8 L672.6,107.4ZM671.4,110.8 L668.0,111.5 L666.7,115.0 L668.8,117.7 L672.1,117.0 L673.4,113.6Z" fill="none" stroke="#8A5E49" stroke-width="1.2" stroke-linejoin="round"/><path d="M686.8,69.8 L687.9,67.0M668.8,117.7 L667.7,120.5" stroke="#93A3D6" stroke-width="1.5" stroke-linecap="round" fill="none"/><path d="M688.9,72.5 L691.5,70.5M683.5,70.5 L682.9,67.2M672.1,117.0 L672.7,120.3M666.7,115.0 L664.1,117.0M686.1,88.3 L687.7,89.8M669.5,99.2 L667.4,99.2" stroke="#E3241C" stroke-width="1.35" stroke-linecap="round" fill="none"/><path d="M673.3,123.3 L670.0,124.0 L668.7,127.4 L670.7,130.2 L674.1,129.5 L675.4,126.0ZM674.1,129.5 L670.7,130.2 L669.5,133.6 L671.5,136.3 L674.9,135.6 L676.2,132.2ZM668.7,127.4 L665.3,128.1 L664.0,131.5 L666.1,134.3 L669.5,133.6 L670.7,130.2ZM669.5,133.6 L666.1,134.3 L664.8,137.7 L666.9,140.4 L670.3,139.7 L671.5,136.3ZM670.3,139.7 L666.9,140.4 L665.6,143.8 L667.7,146.6 L671.0,145.9 L672.3,142.5ZM664.8,137.7 L661.4,138.4 L660.1,141.8 L662.2,144.5 L665.6,143.8 L666.9,140.4ZM665.6,143.8 L662.2,144.5 L660.9,147.9 L663.0,150.7 L666.4,150.0 L667.7,146.6ZM666.4,150.0 L663.0,150.7 L661.7,154.1 L663.8,156.8 L667.2,156.2 L668.5,152.7ZM660.9,147.9 L657.6,148.6 L656.3,152.1 L658.3,154.8 L661.7,154.1 L663.0,150.7ZM661.7,154.1 L658.3,154.8 L657.1,158.2 L659.1,161.0 L662.5,160.3 L663.8,156.8ZM662.5,160.3 L659.1,161.0 L657.8,164.4 L659.9,167.1 L663.3,166.4 L664.6,163.0ZM657.1,158.2 L653.7,158.9 L652.4,162.3 L654.5,165.1 L657.8,164.4 L659.1,161.0ZM657.8,164.4 L654.5,165.1 L653.2,168.5 L655.3,171.2 L658.6,170.5 L659.9,167.1Z" fill="none" stroke="#8A5E49" stroke-width="1.2" stroke-linejoin="round"/><path d="M673.3,123.3 L674.4,120.5M655.3,171.2 L654.2,174.0" stroke="#93A3D6" stroke-width="1.5" stroke-linecap="round" fill="none"/><path d="M675.4,126.0 L678.0,124.0M670.0,124.0 L669.4,120.7M658.6,170.5 L659.2,173.8M653.2,168.5 L650.6,170.5M672.6,141.8 L674.2,143.3M656.0,152.7 L653.9,152.7" stroke="#E3241C" stroke-width="1.35" stroke-linecap="round" fill="none"/><path d="M655.7,183.5 L653.5,185.9 L654.4,189.1 L657.5,190.0 L659.6,187.7 L658.7,184.4ZM659.6,187.7 L657.5,190.0 L658.4,193.3 L661.4,194.2 L663.6,191.8 L662.6,188.6ZM654.4,189.1 L652.3,191.5 L653.2,194.7 L656.2,195.6 L658.4,193.3 L657.5,190.0ZM658.4,193.3 L656.2,195.6 L657.2,198.9 L660.2,199.8 L662.3,197.4 L661.4,194.2ZM662.3,197.4 L660.2,199.8 L661.1,203.0 L664.1,203.9 L666.3,201.6 L665.4,198.3ZM657.2,198.9 L655.0,201.2 L655.9,204.4 L659.0,205.3 L661.1,203.0 L660.2,199.8ZM661.1,203.0 L659.0,205.3 L659.9,208.6 L662.9,209.5 L665.0,207.1 L664.1,203.9ZM665.0,207.1 L662.9,209.5 L663.8,212.7 L666.9,213.6 L669.0,211.3 L668.1,208.0ZM659.9,208.6 L657.7,210.9 L658.6,214.2 L661.7,215.1 L663.8,212.7 L662.9,209.5ZM663.8,212.7 L661.7,215.1 L662.6,218.3 L665.6,219.2 L667.8,216.9 L666.9,213.6ZM667.8,216.9 L665.6,219.2 L666.5,222.5 L669.6,223.4 L671.7,221.0 L670.8,217.8ZM662.6,218.3 L660.5,220.7 L661.4,223.9 L664.4,224.8 L666.5,222.5 L665.6,219.2ZM666.5,222.5 L664.4,224.8 L665.3,228.1 L668.3,229.0 L670.5,226.6 L669.6,223.4Z" fill="none" stroke="#8A5E49" stroke-width="1.2" stroke-linejoin="round"/><path d="M655.7,183.5 L654.9,180.6M668.3,229.0 L669.2,231.8" stroke="#93A3D6" stroke-width="1.5" stroke-linecap="round" fill="none"/><path d="M658.7,184.4 L659.6,181.4M653.5,185.9 L651.2,183.7M670.5,226.6 L672.8,228.7M665.3,228.1 L664.4,231.1M665.2,197.6 L667.3,197.9M658.8,214.9 L657.1,216.2" stroke="#E3241C" stroke-width="1.35" stroke-linecap="round" fill="none"/><path d="M663.8,234.0 L661.6,236.4 L662.5,239.6 L665.6,240.5 L667.7,238.2 L666.8,234.9ZM667.7,238.2 L665.6,240.5 L666.5,243.8 L669.5,244.7 L671.6,242.3 L670.7,239.1ZM662.5,239.6 L660.4,242.0 L661.3,245.2 L664.3,246.1 L666.5,243.8 L665.6,240.5ZM666.5,243.8 L664.3,246.1 L665.2,249.4 L668.3,250.3 L670.4,247.9 L669.5,244.7ZM670.4,247.9 L668.3,250.3 L669.2,253.5 L672.2,254.4 L674.4,252.1 L673.5,248.8ZM665.2,249.4 L663.1,251.7 L664.0,255.0 L667.1,255.9 L669.2,253.5 L668.3,250.3ZM669.2,253.5 L667.1,255.9 L668.0,259.1 L671.0,260.0 L673.1,257.7 L672.2,254.4ZM673.1,257.7 L671.0,260.0 L671.9,263.2 L674.9,264.1 L677.1,261.8 L676.2,258.6ZM668.0,259.1 L665.8,261.4 L666.7,264.7 L669.8,265.6 L671.9,263.2 L671.0,260.0ZM671.9,263.2 L669.8,265.6 L670.7,268.8 L673.7,269.7 L675.9,267.4 L674.9,264.1ZM675.9,267.4 L673.7,269.7 L674.6,273.0 L677.7,273.9 L679.8,271.5 L678.9,268.3ZM670.7,268.8 L668.5,271.2 L669.5,274.4 L672.5,275.3 L674.6,273.0 L673.7,269.7ZM674.6,273.0 L672.5,275.3 L673.4,278.6 L676.4,279.5 L678.6,277.1 L677.7,273.9Z" fill="none" stroke="#8A5E49" stroke-width="1.2" stroke-linejoin="round"/><path d="M663.8,234.0 L662.9,231.2M676.4,279.5 L677.2,282.4" stroke="#93A3D6" stroke-width="1.5" stroke-linecap="round" fill="none"/><path d="M666.8,234.9 L667.7,231.9M661.6,236.4 L659.3,234.3M678.6,277.1 L680.9,279.3M673.4,278.6 L672.5,281.6M673.3,248.1 L675.4,248.4M666.9,265.4 L665.2,266.7" stroke="#E3241C" stroke-width="1.35" stroke-linecap="round" fill="none"/><path d="M674.7,289.6 L671.8,290.3 L670.8,293.4 L672.7,295.8 L675.7,295.0 L676.7,291.9ZM675.7,295.0 L672.7,295.8 L671.8,298.9 L673.7,301.2 L676.7,300.4 L677.7,297.3ZM670.8,293.4 L667.8,294.2 L666.8,297.3 L668.8,299.6 L671.8,298.9 L672.7,295.8ZM671.8,298.9 L668.8,299.6 L667.8,302.7 L669.8,305.1 L672.8,304.3 L673.7,301.2ZM672.8,304.3 L669.8,305.1 L668.8,308.1 L670.8,310.5 L673.7,309.7 L674.7,306.6ZM667.8,302.7 L664.9,303.5 L663.9,306.6 L665.9,308.9 L668.8,308.1 L669.8,305.1ZM668.8,308.1 L665.9,308.9 L664.9,312.0 L666.8,314.3 L669.8,313.6 L670.8,310.5ZM669.8,313.6 L666.8,314.3 L665.9,317.4 L667.8,319.8 L670.8,319.0 L671.8,315.9ZM664.9,312.0 L661.9,312.8 L660.9,315.9 L662.9,318.2 L665.9,317.4 L666.8,314.3ZM665.9,317.4 L662.9,318.2 L661.9,321.3 L663.9,323.6 L666.8,322.9 L667.8,319.8ZM666.8,322.9 L663.9,323.6 L662.9,326.7 L664.9,329.0 L667.8,328.3 L668.8,325.2ZM661.9,321.3 L659.0,322.0 L658.0,325.1 L660.0,327.5 L662.9,326.7 L663.9,323.6ZM662.9,326.7 L660.0,327.5 L659.0,330.6 L660.9,332.9 L663.9,332.1 L664.9,329.0Z" fill="none" stroke="#8A5E49" stroke-width="1.2" stroke-linejoin="round"/><path d="M674.7,289.6 L675.6,286.7M660.9,332.9 L660.0,335.8" stroke="#93A3D6" stroke-width="1.5" stroke-linecap="round" fill="none"/><path d="M676.7,291.9 L679.1,289.9M671.8,290.3 L670.9,287.3M663.9,332.1 L664.7,335.1M659.0,330.6 L656.6,332.6M674.9,305.9 L676.6,307.3M660.7,316.5 L658.6,316.7" stroke="#E3241C" stroke-width="1.35" stroke-linecap="round" fill="none"/><path d="M665.2,338.1 L662.2,338.9 L661.2,342.0 L663.2,344.3 L666.1,343.5 L667.1,340.4ZM666.1,343.5 L663.2,344.3 L662.2,347.4 L664.2,349.7 L667.1,349.0 L668.1,345.9ZM661.2,342.0 L658.3,342.7 L657.3,345.8 L659.3,348.1 L662.2,347.4 L663.2,344.3ZM662.2,347.4 L659.3,348.1 L658.3,351.2 L660.2,353.6 L663.2,352.8 L664.2,349.7ZM663.2,352.8 L660.2,353.6 L659.3,356.7 L661.2,359.0 L664.2,358.2 L665.2,355.1ZM658.3,351.2 L655.3,352.0 L654.3,355.1 L656.3,357.4 L659.3,356.7 L660.2,353.6ZM659.3,356.7 L656.3,357.4 L655.3,360.5 L657.3,362.9 L660.2,362.1 L661.2,359.0ZM660.2,362.1 L657.3,362.9 L656.3,365.9 L658.3,368.3 L661.2,367.5 L662.2,364.4ZM655.3,360.5 L652.4,361.3 L651.4,364.4 L653.3,366.7 L656.3,365.9 L657.3,362.9ZM656.3,365.9 L653.3,366.7 L652.4,369.8 L654.3,372.1 L657.3,371.4 L658.3,368.3ZM657.3,371.4 L654.3,372.1 L653.4,375.2 L655.3,377.6 L658.3,376.8 L659.3,373.7ZM652.4,369.8 L649.4,370.6 L648.4,373.7 L650.4,376.0 L653.4,375.2 L654.3,372.1ZM653.4,375.2 L650.4,376.0 L649.4,379.1 L651.4,381.4 L654.3,380.7 L655.3,377.6Z" fill="none" stroke="#8A5E49" stroke-width="1.2" stroke-linejoin="round"/><path d="M665.2,338.1 L666.1,335.2M651.4,381.4 L650.5,384.3" stroke="#93A3D6" stroke-width="1.5" stroke-linecap="round" fill="none"/><path d="M667.1,340.4 L669.5,338.4M662.2,338.9 L661.4,335.9M654.3,380.7 L655.2,383.7M649.4,379.1 L647.0,381.1M665.4,354.5 L667.0,355.8M651.2,365.1 L649.0,365.2" stroke="#E3241C" stroke-width="1.35" stroke-linecap="round" fill="none"/><path d="M654.5,394.5 L652.2,396.7 L653.0,400.1 L656.1,401.1 L658.3,398.8 L657.5,395.5ZM658.3,398.8 L656.1,401.1 L656.8,404.4 L659.9,405.5 L662.1,403.2 L661.4,399.9ZM653.0,400.1 L650.8,402.4 L651.5,405.7 L654.6,406.7 L656.8,404.4 L656.1,401.1ZM656.8,404.4 L654.6,406.7 L655.4,410.1 L658.4,411.1 L660.7,408.8 L659.9,405.5ZM660.7,408.8 L658.4,411.1 L659.2,414.4 L662.2,415.5 L664.5,413.2 L663.7,409.8ZM655.4,410.1 L653.1,412.3 L653.9,415.7 L656.9,416.7 L659.2,414.4 L658.4,411.1ZM659.2,414.4 L656.9,416.7 L657.7,420.0 L660.8,421.1 L663.0,418.8 L662.2,415.5ZM663.0,418.8 L660.8,421.1 L661.6,424.4 L664.6,425.4 L666.9,423.1 L666.1,419.8ZM657.7,420.0 L655.5,422.3 L656.3,425.7 L659.3,426.7 L661.6,424.4 L660.8,421.1ZM661.6,424.4 L659.3,426.7 L660.1,430.0 L663.1,431.1 L665.4,428.8 L664.6,425.4ZM665.4,428.8 L663.1,431.1 L663.9,434.4 L667.0,435.4 L669.2,433.1 L668.4,429.8ZM660.1,430.0 L657.8,432.3 L658.6,435.6 L661.7,436.7 L663.9,434.4 L663.1,431.1ZM663.9,434.4 L661.7,436.7 L662.4,440.0 L665.5,441.0 L667.7,438.8 L667.0,435.4Z" fill="none" stroke="#8A5E49" stroke-width="1.2" stroke-linejoin="round"/><path d="M654.5,394.5 L653.8,391.5M665.5,441.0 L666.2,444.0" stroke="#93A3D6" stroke-width="1.5" stroke-linecap="round" fill="none"/><path d="M657.5,395.5 L658.6,392.5M652.2,396.7 L649.9,394.5M667.7,438.8 L670.0,441.0M662.4,440.0 L661.4,443.0M663.6,409.2 L665.7,409.5M656.4,426.3 L654.7,427.6" stroke="#E3241C" stroke-width="1.35" stroke-linecap="round" fill="none"/><path d="M660.6,446.0 L658.4,448.2 L659.1,451.6 L662.2,452.6 L664.4,450.3 L663.7,447.0ZM664.4,450.3 L662.2,452.6 L663.0,455.9 L666.0,457.0 L668.3,454.7 L667.5,451.4ZM659.1,451.6 L656.9,453.9 L657.7,457.2 L660.7,458.2 L663.0,455.9 L662.2,452.6ZM663.0,455.9 L660.7,458.2 L661.5,461.6 L664.5,462.6 L666.8,460.3 L666.0,457.0ZM666.8,460.3 L664.5,462.6 L665.3,465.9 L668.4,467.0 L670.6,464.7 L669.8,461.3ZM661.5,461.6 L659.2,463.9 L660.0,467.2 L663.1,468.2 L665.3,465.9 L664.5,462.6ZM665.3,465.9 L663.1,468.2 L663.9,471.5 L666.9,472.6 L669.2,470.3 L668.4,467.0ZM669.2,470.3 L666.9,472.6 L667.7,475.9 L670.7,476.9 L673.0,474.7 L672.2,471.3ZM663.9,471.5 L661.6,473.8 L662.4,477.2 L665.4,478.2 L667.7,475.9 L666.9,472.6ZM667.7,475.9 L665.4,478.2 L666.2,481.5 L669.3,482.6 L671.5,480.3 L670.7,476.9ZM671.5,480.3 L669.3,482.6 L670.0,485.9 L673.1,486.9 L675.3,484.6 L674.6,481.3ZM666.2,481.5 L664.0,483.8 L664.7,487.1 L667.8,488.2 L670.0,485.9 L669.3,482.6ZM670.0,485.9 L667.8,488.2 L668.6,491.5 L671.6,492.5 L673.9,490.3 L673.1,486.9Z" fill="none" stroke="#8A5E49" stroke-width="1.2" stroke-linejoin="round"/><path d="M660.6,446.0 L659.9,443.0M671.6,492.5 L672.3,495.5" stroke="#93A3D6" stroke-width="1.5" stroke-linecap="round" fill="none"/><path d="M663.7,447.0 L664.7,444.0M658.4,448.2 L656.1,446.0M673.9,490.3 L676.2,492.5M668.6,491.5 L667.5,494.5M669.7,460.7 L671.8,461.0M662.5,477.8 L660.8,479.1" stroke="#E3241C" stroke-width="1.35" stroke-linecap="round" fill="none"/><path d="M702.2,69.8 L698.9,70.5 L697.6,73.9 L699.7,76.6 L703.0,75.9 L704.3,72.5ZM703.0,75.9 L699.7,76.6 L698.4,80.0 L700.4,82.8 L703.8,82.1 L705.1,78.7ZM697.6,73.9 L694.2,74.6 L692.9,78.0 L695.0,80.7 L698.4,80.0 L699.7,76.6ZM698.4,80.0 L695.0,80.7 L693.7,84.2 L695.8,86.9 L699.2,86.2 L700.4,82.8ZM699.2,86.2 L695.8,86.9 L694.5,90.3 L696.6,93.1 L699.9,92.4 L701.2,88.9ZM693.7,84.2 L690.3,84.8 L689.0,88.3 L691.1,91.0 L694.5,90.3 L695.8,86.9ZM694.5,90.3 L691.1,91.0 L689.8,94.4 L691.9,97.2 L695.3,96.5 L696.6,93.1ZM695.3,96.5 L691.9,97.2 L690.6,100.6 L692.7,103.3 L696.1,102.6 L697.4,99.2ZM689.8,94.4 L686.5,95.1 L685.2,98.5 L687.2,101.3 L690.6,100.6 L691.9,97.2ZM690.6,100.6 L687.2,101.3 L686.0,104.7 L688.0,107.4 L691.4,106.7 L692.7,103.3ZM691.4,106.7 L688.0,107.4 L686.8,110.8 L688.8,113.6 L692.2,112.9 L693.5,109.5ZM686.0,104.7 L682.6,105.4 L681.3,108.8 L683.4,111.5 L686.8,110.8 L688.0,107.4ZM686.8,110.8 L683.4,111.5 L682.1,115.0 L684.2,117.7 L687.5,117.0 L688.8,113.6Z" fill="none" stroke="#8A5E49" stroke-width="1.2" stroke-linejoin="round"/><path d="M702.2,69.8 L703.3,67.0M684.2,117.7 L683.1,120.5" stroke="#93A3D6" stroke-width="1.5" stroke-linecap="round" fill="none"/><path d="M704.3,72.5 L706.9,70.5M698.9,70.5 L698.3,67.2M687.5,117.0 L688.1,120.3M682.1,115.0 L679.5,117.0M701.5,88.3 L703.1,89.8M684.9,99.2 L682.8,99.2" stroke="#E3241C" stroke-width="1.35" stroke-linecap="round" fill="none"/><path d="M688.7,123.3 L685.4,124.0 L684.1,127.4 L686.1,130.2 L689.5,129.5 L690.8,126.0ZM689.5,129.5 L686.1,130.2 L684.9,133.6 L686.9,136.3 L690.3,135.6 L691.6,132.2ZM684.1,127.4 L680.7,128.1 L679.4,131.5 L681.5,134.3 L684.9,133.6 L686.1,130.2ZM684.9,133.6 L681.5,134.3 L680.2,137.7 L682.3,140.4 L685.7,139.7 L686.9,136.3ZM685.7,139.7 L682.3,140.4 L681.0,143.8 L683.1,146.6 L686.4,145.9 L687.7,142.5ZM680.2,137.7 L676.8,138.4 L675.5,141.8 L677.6,144.5 L681.0,143.8 L682.3,140.4ZM681.0,143.8 L677.6,144.5 L676.3,147.9 L678.4,150.7 L681.8,150.0 L683.1,146.6ZM681.8,150.0 L678.4,150.7 L677.1,154.1 L679.2,156.8 L682.6,156.2 L683.9,152.7ZM676.3,147.9 L673.0,148.6 L671.7,152.1 L673.7,154.8 L677.1,154.1 L678.4,150.7ZM677.1,154.1 L673.7,154.8 L672.5,158.2 L674.5,161.0 L677.9,160.3 L679.2,156.8ZM677.9,160.3 L674.5,161.0 L673.2,164.4 L675.3,167.1 L678.7,166.4 L680.0,163.0ZM672.5,158.2 L669.1,158.9 L667.8,162.3 L669.9,165.1 L673.2,164.4 L674.5,161.0ZM673.2,164.4 L669.9,165.1 L668.6,168.5 L670.7,171.2 L674.0,170.5 L675.3,167.1Z" fill="none" stroke="#8A5E49" stroke-width="1.2" stroke-linejoin="round"/><path d="M688.7,123.3 L689.8,120.5M670.7,171.2 L669.6,174.0" stroke="#93A3D6" stroke-width="1.5" stroke-linecap="round" fill="none"/><path d="M690.8,126.0 L693.4,124.0M685.4,124.0 L684.8,120.7M674.0,170.5 L674.6,173.8M668.6,168.5 L666.0,170.5M688.0,141.8 L689.6,143.3M671.4,152.7 L669.3,152.7" stroke="#E3241C" stroke-width="1.35" stroke-linecap="round" fill="none"/><path d="M671.1,183.5 L668.9,185.9 L669.8,189.1 L672.9,190.0 L675.0,187.7 L674.1,184.4ZM675.0,187.7 L672.9,190.0 L673.8,193.3 L676.8,194.2 L679.0,191.8 L678.0,188.6ZM669.8,189.1 L667.7,191.5 L668.6,194.7 L671.6,195.6 L673.8,193.3 L672.9,190.0ZM673.8,193.3 L671.6,195.6 L672.6,198.9 L675.6,199.8 L677.7,197.4 L676.8,194.2ZM677.7,197.4 L675.6,199.8 L676.5,203.0 L679.5,203.9 L681.7,201.6 L680.8,198.3ZM672.6,198.9 L670.4,201.2 L671.3,204.4 L674.4,205.3 L676.5,203.0 L675.6,199.8ZM676.5,203.0 L674.4,205.3 L675.3,208.6 L678.3,209.5 L680.4,207.1 L679.5,203.9ZM680.4,207.1 L678.3,209.5 L679.2,212.7 L682.3,213.6 L684.4,211.3 L683.5,208.0ZM675.3,208.6 L673.1,210.9 L674.0,214.2 L677.1,215.1 L679.2,212.7 L678.3,209.5ZM679.2,212.7 L677.1,215.1 L678.0,218.3 L681.0,219.2 L683.2,216.9 L682.3,213.6ZM683.2,216.9 L681.0,219.2 L681.9,222.5 L685.0,223.4 L687.1,221.0 L686.2,217.8ZM678.0,218.3 L675.9,220.7 L676.8,223.9 L679.8,224.8 L681.9,222.5 L681.0,219.2ZM681.9,222.5 L679.8,224.8 L680.7,228.1 L683.7,229.0 L685.9,226.6 L685.0,223.4Z" fill="none" stroke="#8A5E49" stroke-width="1.2" stroke-linejoin="round"/><path d="M671.1,183.5 L670.3,180.6M683.7,229.0 L684.6,231.8" stroke="#93A3D6" stroke-width="1.5" stroke-linecap="round" fill="none"/><path d="M674.1,184.4 L675.0,181.4M668.9,185.9 L666.6,183.7M685.9,226.6 L688.2,228.7M680.7,228.1 L679.8,231.1M680.6,197.6 L682.7,197.9M674.2,214.9 L672.5,216.2" stroke="#E3241C" stroke-width="1.35" stroke-linecap="round" fill="none"/><path d="M679.2,234.0 L677.0,236.4 L677.9,239.6 L681.0,240.5 L683.1,238.2 L682.2,234.9ZM683.1,238.2 L681.0,240.5 L681.9,243.8 L684.9,244.7 L687.0,242.3 L686.1,239.1ZM677.9,239.6 L675.8,242.0 L676.7,245.2 L679.7,246.1 L681.9,243.8 L681.0,240.5ZM681.9,243.8 L679.7,246.1 L680.6,249.4 L683.7,250.3 L685.8,247.9 L684.9,244.7ZM685.8,247.9 L683.7,250.3 L684.6,253.5 L687.6,254.4 L689.8,252.1 L688.9,248.8ZM680.6,249.4 L678.5,251.7 L679.4,255.0 L682.5,255.9 L684.6,253.5 L683.7,250.3ZM684.6,253.5 L682.5,255.9 L683.4,259.1 L686.4,260.0 L688.5,257.7 L687.6,254.4ZM688.5,257.7 L686.4,260.0 L687.3,263.2 L690.3,264.1 L692.5,261.8 L691.6,258.6ZM683.4,259.1 L681.2,261.4 L682.1,264.7 L685.2,265.6 L687.3,263.2 L686.4,260.0ZM687.3,263.2 L685.2,265.6 L686.1,268.8 L689.1,269.7 L691.3,267.4 L690.3,264.1ZM691.3,267.4 L689.1,269.7 L690.0,273.0 L693.1,273.9 L695.2,271.5 L694.3,268.3ZM686.1,268.8 L683.9,271.2 L684.9,274.4 L687.9,275.3 L690.0,273.0 L689.1,269.7ZM690.0,273.0 L687.9,275.3 L688.8,278.6 L691.8,279.5 L694.0,277.1 L693.1,273.9Z" fill="none" stroke="#8A5E49" stroke-width="1.2" stroke-linejoin="round"/><path d="M679.2,234.0 L678.3,231.2M691.8,279.5 L692.6,282.4" stroke="#93A3D6" stroke-width="1.5" stroke-linecap="round" fill="none"/><path d="M682.2,234.9 L683.1,231.9M677.0,236.4 L674.7,234.3M694.0,277.1 L696.3,279.3M688.8,278.6 L687.9,281.6M688.7,248.1 L690.8,248.4M682.3,265.4 L680.6,266.7" stroke="#E3241C" stroke-width="1.35" stroke-linecap="round" fill="none"/><path d="M690.1,289.6 L687.2,290.3 L686.2,293.4 L688.1,295.8 L691.1,295.0 L692.1,291.9ZM691.1,295.0 L688.1,295.8 L687.2,298.9 L689.1,301.2 L692.1,300.4 L693.1,297.3ZM686.2,293.4 L683.2,294.2 L682.2,297.3 L684.2,299.6 L687.2,298.9 L688.1,295.8ZM687.2,298.9 L684.2,299.6 L683.2,302.7 L685.2,305.1 L688.2,304.3 L689.1,301.2ZM688.2,304.3 L685.2,305.1 L684.2,308.1 L686.2,310.5 L689.1,309.7 L690.1,306.6ZM683.2,302.7 L680.3,303.5 L679.3,306.6 L681.3,308.9 L684.2,308.1 L685.2,305.1ZM684.2,308.1 L681.3,308.9 L680.3,312.0 L682.2,314.3 L685.2,313.6 L686.2,310.5ZM685.2,313.6 L682.2,314.3 L681.3,317.4 L683.2,319.8 L686.2,319.0 L687.2,315.9ZM680.3,312.0 L677.3,312.8 L676.3,315.9 L678.3,318.2 L681.3,317.4 L682.2,314.3ZM681.3,317.4 L678.3,318.2 L677.3,321.3 L679.3,323.6 L682.2,322.9 L683.2,319.8ZM682.2,322.9 L679.3,323.6 L678.3,326.7 L680.3,329.0 L683.2,328.3 L684.2,325.2ZM677.3,321.3 L674.4,322.0 L673.4,325.1 L675.4,327.5 L678.3,326.7 L679.3,323.6ZM678.3,326.7 L675.4,327.5 L674.4,330.6 L676.3,332.9 L679.3,332.1 L680.3,329.0Z" fill="none" stroke="#8A5E49" stroke-width="1.2" stroke-linejoin="round"/><path d="M690.1,289.6 L691.0,286.7M676.3,332.9 L675.4,335.8" stroke="#93A3D6" stroke-width="1.5" stroke-linecap="round" fill="none"/><path d="M692.1,291.9 L694.5,289.9M687.2,290.3 L686.3,287.3M679.3,332.1 L680.1,335.1M674.4,330.6 L672.0,332.6M690.3,305.9 L692.0,307.3M676.1,316.5 L674.0,316.7" stroke="#E3241C" stroke-width="1.35" stroke-linecap="round" fill="none"/><path d="M680.6,338.1 L677.6,338.9 L676.6,342.0 L678.6,344.3 L681.5,343.5 L682.5,340.4ZM681.5,343.5 L678.6,344.3 L677.6,347.4 L679.6,349.7 L682.5,349.0 L683.5,345.9ZM676.6,342.0 L673.7,342.7 L672.7,345.8 L674.7,348.1 L677.6,347.4 L678.6,344.3ZM677.6,347.4 L674.7,348.1 L673.7,351.2 L675.6,353.6 L678.6,352.8 L679.6,349.7ZM678.6,352.8 L675.6,353.6 L674.7,356.7 L676.6,359.0 L679.6,358.2 L680.6,355.1ZM673.7,351.2 L670.7,352.0 L669.7,355.1 L671.7,357.4 L674.7,356.7 L675.6,353.6ZM674.7,356.7 L671.7,357.4 L670.7,360.5 L672.7,362.9 L675.6,362.1 L676.6,359.0ZM675.6,362.1 L672.7,362.9 L671.7,365.9 L673.7,368.3 L676.6,367.5 L677.6,364.4ZM670.7,360.5 L667.8,361.3 L666.8,364.4 L668.7,366.7 L671.7,365.9 L672.7,362.9ZM671.7,365.9 L668.7,366.7 L667.8,369.8 L669.7,372.1 L672.7,371.4 L673.7,368.3ZM672.7,371.4 L669.7,372.1 L668.8,375.2 L670.7,377.6 L673.7,376.8 L674.7,373.7ZM667.8,369.8 L664.8,370.6 L663.8,373.7 L665.8,376.0 L668.8,375.2 L669.7,372.1ZM668.8,375.2 L665.8,376.0 L664.8,379.1 L666.8,381.4 L669.7,380.7 L670.7,377.6Z" fill="none" stroke="#8A5E49" stroke-width="1.2" stroke-linejoin="round"/><path d="M680.6,338.1 L681.5,335.2M666.8,381.4 L665.9,384.3" stroke="#93A3D6" stroke-width="1.5" stroke-linecap="round" fill="none"/><path d="M682.5,340.4 L684.9,338.4M677.6,338.9 L676.8,335.9M669.7,380.7 L670.6,383.7M664.8,379.1 L662.4,381.1M680.8,354.5 L682.4,355.8M666.6,365.1 L664.4,365.2" stroke="#E3241C" stroke-width="1.35" stroke-linecap="round" fill="none"/><path d="M669.9,394.5 L667.6,396.7 L668.4,400.1 L671.5,401.1 L673.7,398.8 L672.9,395.5ZM673.7,398.8 L671.5,401.1 L672.2,404.4 L675.3,405.5 L677.5,403.2 L676.8,399.9ZM668.4,400.1 L666.2,402.4 L666.9,405.7 L670.0,406.7 L672.2,404.4 L671.5,401.1ZM672.2,404.4 L670.0,406.7 L670.8,410.1 L673.8,411.1 L676.1,408.8 L675.3,405.5ZM676.1,408.8 L673.8,411.1 L674.6,414.4 L677.6,415.5 L679.9,413.2 L679.1,409.8ZM670.8,410.1 L668.5,412.3 L669.3,415.7 L672.3,416.7 L674.6,414.4 L673.8,411.1ZM674.6,414.4 L672.3,416.7 L673.1,420.0 L676.2,421.1 L678.4,418.8 L677.6,415.5ZM678.4,418.8 L676.2,421.1 L677.0,424.4 L680.0,425.4 L682.3,423.1 L681.5,419.8ZM673.1,420.0 L670.9,422.3 L671.7,425.7 L674.7,426.7 L677.0,424.4 L676.2,421.1ZM677.0,424.4 L674.7,426.7 L675.5,430.0 L678.5,431.1 L680.8,428.8 L680.0,425.4ZM680.8,428.8 L678.5,431.1 L679.3,434.4 L682.4,435.4 L684.6,433.1 L683.8,429.8ZM675.5,430.0 L673.2,432.3 L674.0,435.6 L677.1,436.7 L679.3,434.4 L678.5,431.1ZM679.3,434.4 L677.1,436.7 L677.8,440.0 L680.9,441.0 L683.1,438.8 L682.4,435.4Z" fill="none" stroke="#8A5E49" stroke-width="1.2" stroke-linejoin="round"/><path d="M669.9,394.5 L669.2,391.5M680.9,441.0 L681.6,444.0" stroke="#93A3D6" stroke-width="1.5" stroke-linecap="round" fill="none"/><path d="M672.9,395.5 L674.0,392.5M667.6,396.7 L665.3,394.5M683.1,438.8 L685.4,441.0M677.8,440.0 L676.8,443.0M679.0,409.2 L681.1,409.5M671.8,426.3 L670.1,427.6" stroke="#E3241C" stroke-width="1.35" stroke-linecap="round" fill="none"/><path d="M676.0,446.0 L673.8,448.2 L674.5,451.6 L677.6,452.6 L679.8,450.3 L679.1,447.0ZM679.8,450.3 L677.6,452.6 L678.4,455.9 L681.4,457.0 L683.7,454.7 L682.9,451.4ZM674.5,451.6 L672.3,453.9 L673.1,457.2 L676.1,458.2 L678.4,455.9 L677.6,452.6ZM678.4,455.9 L676.1,458.2 L676.9,461.6 L679.9,462.6 L682.2,460.3 L681.4,457.0ZM682.2,460.3 L679.9,462.6 L680.7,465.9 L683.8,467.0 L686.0,464.7 L685.2,461.3ZM676.9,461.6 L674.6,463.9 L675.4,467.2 L678.5,468.2 L680.7,465.9 L679.9,462.6ZM680.7,465.9 L678.5,468.2 L679.3,471.5 L682.3,472.6 L684.6,470.3 L683.8,467.0ZM684.6,470.3 L682.3,472.6 L683.1,475.9 L686.1,476.9 L688.4,474.7 L687.6,471.3ZM679.3,471.5 L677.0,473.8 L677.8,477.2 L680.8,478.2 L683.1,475.9 L682.3,472.6ZM683.1,475.9 L680.8,478.2 L681.6,481.5 L684.7,482.6 L686.9,480.3 L686.1,476.9ZM686.9,480.3 L684.7,482.6 L685.4,485.9 L688.5,486.9 L690.7,484.6 L690.0,481.3ZM681.6,481.5 L679.4,483.8 L680.1,487.1 L683.2,488.2 L685.4,485.9 L684.7,482.6ZM685.4,485.9 L683.2,488.2 L684.0,491.5 L687.0,492.5 L689.3,490.3 L688.5,486.9Z" fill="none" stroke="#8A5E49" stroke-width="1.2" stroke-linejoin="round"/><path d="M676.0,446.0 L675.3,443.0M687.0,492.5 L687.7,495.5" stroke="#93A3D6" stroke-width="1.5" stroke-linecap="round" fill="none"/><path d="M679.1,447.0 L680.1,444.0M673.8,448.2 L671.5,446.0M689.3,490.3 L691.6,492.5M684.0,491.5 L682.9,494.5M685.1,460.7 L687.2,461.0M677.9,477.8 L676.2,479.1" stroke="#E3241C" stroke-width="1.35" stroke-linecap="round" fill="none"/></g>
<ellipse cx="232.2" cy="103.6" rx="6.9" ry="7.75" fill="url(#gYel)"/>
<ellipse cx="134.2" cy="147.6" rx="6.9" ry="7.75" fill="url(#gYel)"/>
<ellipse cx="160.2" cy="207.1" rx="6.9" ry="7.75" fill="url(#gYel)"/>
<ellipse cx="334.2" cy="193.1" rx="6.9" ry="7.75" fill="url(#gYel)"/>
<ellipse cx="383.2" cy="317.1" rx="6.9" ry="7.75" fill="url(#gYel)"/>
<ellipse cx="129.7" cy="382.1" rx="6.9" ry="7.75" fill="url(#gYel)"/>
<ellipse cx="345.2" cy="393.6" rx="6.9" ry="7.75" fill="url(#gYel)"/>
<g transform="translate(241.0,199.1) rotate(-52.6)"><ellipse cx="11.0" cy="0" rx="11.0" ry="3.45" fill="url(#gPet)"/></g><g transform="translate(249.2,205.0) rotate(-1.0)"><ellipse cx="11.0" cy="0" rx="11.0" ry="3.45" fill="url(#gPet)"/></g><g transform="translate(234.6,207.0) rotate(-174.7)"><ellipse cx="10.8" cy="0" rx="10.8" ry="3.45" fill="url(#gPet)"/></g><g transform="translate(241.4,215.5) rotate(126.4)"><ellipse cx="11.1" cy="0" rx="11.1" ry="3.45" fill="url(#gPet)"/></g><circle cx="241.7" cy="207.3" r="5.25" fill="url(#gGreen)" stroke="#746A1E" stroke-width="1.6"/>
<g transform="translate(375.5,144.5) rotate(-52.7)"><ellipse cx="11.1" cy="0" rx="11.1" ry="3.5" fill="url(#gPet)"/></g><g transform="translate(383.9,150.5) rotate(-2.4)"><ellipse cx="11.0" cy="0" rx="11.0" ry="3.5" fill="url(#gPet)"/></g><g transform="translate(370.0,151.5) rotate(-176.1)"><ellipse cx="11.0" cy="0" rx="11.0" ry="3.5" fill="url(#gPet)"/></g><g transform="translate(379.0,160.0) rotate(87.3)"><ellipse cx="10.7" cy="0" rx="10.7" ry="3.5" fill="url(#gPet)"/></g><circle cx="376.7" cy="152.6" r="5.25" fill="url(#gGreen)" stroke="#746A1E" stroke-width="1.6"/>
<g transform="translate(400.2,394.5) rotate(-121.8)"><ellipse cx="10.5" cy="0" rx="10.5" ry="3.45" fill="url(#gPet)"/></g><g transform="translate(410.4,395.5) rotate(-48.6)"><ellipse cx="10.6" cy="0" rx="10.6" ry="3.45" fill="url(#gPet)"/></g><g transform="translate(396.5,400.4) rotate(172.7)"><ellipse cx="10.3" cy="0" rx="10.3" ry="3.45" fill="url(#gPet)"/></g><g transform="translate(401.7,406.0) rotate(123.7)"><ellipse cx="10.5" cy="0" rx="10.5" ry="3.45" fill="url(#gPet)"/></g><g transform="translate(410.4,404.5) rotate(56.3)"><ellipse cx="10.3" cy="0" rx="10.3" ry="3.45" fill="url(#gPet)"/></g><circle cx="404.7" cy="400" r="5.25" fill="url(#gGreen)" stroke="#746A1E" stroke-width="1.6"/>
<g transform="translate(162.6,449.8) rotate(-123.4)"><ellipse cx="11.4" cy="0" rx="11.4" ry="3.45" fill="url(#gPet)"/></g><g transform="translate(172.4,450.6) rotate(-48.7)"><ellipse cx="10.9" cy="0" rx="10.9" ry="3.45" fill="url(#gPet)"/></g><g transform="translate(158.5,455.8) rotate(174.3)"><ellipse cx="11.0" cy="0" rx="11.0" ry="3.45" fill="url(#gPet)"/></g><g transform="translate(164.0,461.7) rotate(124.3)"><ellipse cx="10.8" cy="0" rx="10.8" ry="3.45" fill="url(#gPet)"/></g><g transform="translate(171.9,459.5) rotate(56.2)"><ellipse cx="10.8" cy="0" rx="10.8" ry="3.45" fill="url(#gPet)"/></g><circle cx="166.7" cy="455.3" r="5.25" fill="url(#gGreen)" stroke="#746A1E" stroke-width="1.6"/>
<circle cx="167.2" cy="117.5" r="5.1499999999999995" fill="url(#gGreen)" stroke="#8F7E2A" stroke-width="1.35"/>
<circle cx="260.7" cy="144.0" r="5.1499999999999995" fill="url(#gGreen)" stroke="#8F7E2A" stroke-width="1.35"/>
<circle cx="142.39999999999998" cy="230.0" r="5.1499999999999995" fill="url(#gGreen)" stroke="#8F7E2A" stroke-width="1.35"/>
<circle cx="399.2" cy="97.5" r="5.1499999999999995" fill="url(#gGreen)" stroke="#8F7E2A" stroke-width="1.35"/>
<circle cx="328.2" cy="177.0" r="5.1499999999999995" fill="url(#gGreen)" stroke="#8F7E2A" stroke-width="1.35"/>
<circle cx="419.2" cy="220.5" r="5.1499999999999995" fill="url(#gGreen)" stroke="#8F7E2A" stroke-width="1.35"/>
<circle cx="366.7" cy="275.5" r="5.1499999999999995" fill="url(#gGreen)" stroke="#8F7E2A" stroke-width="1.35"/>
<circle cx="339.09999999999997" cy="323.9" r="5.1499999999999995" fill="url(#gGreen)" stroke="#8F7E2A" stroke-width="1.35"/>
<circle cx="228.0" cy="401.3" r="5.1499999999999995" fill="url(#gGreen)" stroke="#8F7E2A" stroke-width="1.35"/>
<circle cx="311.9" cy="427.0" r="5.1499999999999995" fill="url(#gGreen)" stroke="#8F7E2A" stroke-width="1.35"/>
<circle cx="394.9" cy="455.1" r="5.1499999999999995" fill="url(#gGreen)" stroke="#8F7E2A" stroke-width="1.35"/>
<path d="M155.7,323.3 L165.8,321.2 L181.3,322.7 L192.6,319.7 L207.6,322.1 L207.6,325.7 L222.5,329.2 L222.5,334.0M144.9,330.4 L155.7,326.8 L155.7,323.3M155.7,326.8 L170.6,330.4 L181.3,326.8 L181.3,322.7M181.3,326.8 L196.2,329.8 L207.6,325.7M144.9,330.4 L144.9,335.2 L159.8,338.2 L170.6,334.6 L170.6,330.4M170.6,334.6 L185.5,337.6 L196.2,334.0 L196.2,329.8M196.2,334.0 L211.1,337.0 L222.5,334.0M159.8,338.2 L159.8,341.8 L174.7,344.7 L185.5,341.2 L185.5,337.6M185.5,341.2 L200.4,343.6 L211.1,340.6 L211.1,337.0" transform="translate(0,1.1)" fill="none" stroke="#63207E" stroke-width="2.3" stroke-linejoin="round" stroke-linecap="round"/>
<path d="M155.7,323.3 L165.8,321.2 L181.3,322.7 L192.6,319.7 L207.6,322.1 L207.6,325.7 L222.5,329.2 L222.5,334.0M144.9,330.4 L155.7,326.8 L155.7,323.3M155.7,326.8 L170.6,330.4 L181.3,326.8 L181.3,322.7M181.3,326.8 L196.2,329.8 L207.6,325.7M144.9,330.4 L144.9,335.2 L159.8,338.2 L170.6,334.6 L170.6,330.4M170.6,334.6 L185.5,337.6 L196.2,334.0 L196.2,329.8M196.2,334.0 L211.1,337.0 L222.5,334.0M159.8,338.2 L159.8,341.8 L174.7,344.7 L185.5,341.2 L185.5,337.6M185.5,341.2 L200.4,343.6 L211.1,340.6 L211.1,337.0" fill="none" stroke="#A548C8" stroke-width="2.0" stroke-linejoin="round" stroke-linecap="round"/>
<circle cx="169.39999999999998" cy="322.1" r="5.25" fill="url(#gGreen)" stroke="#8F7E2A" stroke-width="1.35"/>
<circle cx="200.2" cy="342.6" r="5.25" fill="url(#gGreen)" stroke="#8F7E2A" stroke-width="1.35"/>
<linearGradient id="gA1" gradientUnits="userSpaceOnUse" x1="0" y1="234.6" x2="0" y2="329.1"><stop offset="0" stop-color="#9CB4E3"/><stop offset="0.2" stop-color="#84A2DB"/><stop offset="0.72" stop-color="#7F9ED9"/><stop offset="1" stop-color="#C3D1EE"/></linearGradient><polygon points="129.2,242.3 126.9,245.0 124.8,247.7 122.9,250.4 121.2,253.1 119.6,255.8 118.2,258.6 117.0,261.4 116.0,264.2 115.2,267.1 114.5,269.9 114.0,272.8 113.7,275.7 113.6,278.6 113.7,281.5 114.0,284.4 114.5,287.3 115.1,290.2 115.9,293.1 116.9,296.0 118.1,298.9 119.5,301.8 121.0,304.6 122.7,307.5 124.6,310.3 126.7,313.2 128.9,316.0 131.3,318.8 133.9,321.5 136.6,319.1 134.3,316.2 132.2,313.4 130.2,310.6 128.4,307.8 126.8,305.1 125.3,302.3 124.0,299.6 122.8,296.9 121.8,294.3 121.0,291.6 120.3,289.0 119.7,286.4 119.3,283.8 119.1,281.2 119.0,278.6 119.1,276.0 119.3,273.5 119.7,270.9 120.2,268.3 120.9,265.8 121.7,263.2 122.7,260.6 123.8,258.0 125.2,255.3 126.6,252.7 128.3,250.0 130.1,247.4 132.0,244.7" fill="url(#gA1)" stroke="#B9CAEC" stroke-width="0.5"/><polyline points="130.1,243.1 128.0,245.8 126.1,248.5 124.3,251.2 122.6,253.9 121.2,256.6 119.9,259.4 118.8,262.1 117.9,264.8 117.1,267.6 116.5,270.3 116.1,273.1 115.8,275.8 115.7,278.6 115.8,281.4 116.1,284.2 116.5,287.0 117.1,289.8 117.9,292.5 118.8,295.3 119.9,298.1 121.2,301.0 122.6,303.8 124.2,306.6 126.0,309.4 128.0,312.2 130.1,315.1 132.4,317.9 134.8,320.7" fill="none" stroke="#EEF3FC" stroke-width="0.6" opacity="0.7"/><polygon points="138.9,234.6 134.5,247.1 126.7,239.9" fill="url(#gA1)"/><polygon points="143.9,329.1 131.5,324.0 139.0,316.6" fill="url(#gA1)"/>
<linearGradient id="gA2" gradientUnits="userSpaceOnUse" x1="0" y1="253.3" x2="0" y2="347.6"><stop offset="0" stop-color="#9CB4E3"/><stop offset="0.2" stop-color="#84A2DB"/><stop offset="0.72" stop-color="#7F9ED9"/><stop offset="1" stop-color="#C3D1EE"/></linearGradient><polygon points="692.4,261.1 690.3,263.6 688.3,266.2 686.5,268.8 684.9,271.4 683.5,274.1 682.1,276.8 681.0,279.5 680.0,282.2 679.2,285.0 678.6,287.8 678.1,290.6 677.8,293.5 677.7,296.3 677.7,299.2 677.9,302.1 678.3,305.0 678.9,307.9 679.6,310.8 680.5,313.7 681.6,316.6 682.8,319.4 684.2,322.3 685.8,325.2 687.5,328.1 689.3,331.0 691.4,333.9 693.6,336.8 695.9,339.6 698.8,337.3 696.8,334.4 694.8,331.5 693.0,328.6 691.4,325.8 689.9,323.0 688.6,320.2 687.4,317.5 686.4,314.8 685.5,312.1 684.7,309.4 684.1,306.8 683.6,304.1 683.3,301.5 683.1,299.0 683.1,296.4 683.2,293.9 683.4,291.3 683.7,288.8 684.3,286.3 684.9,283.7 685.7,281.2 686.6,278.7 687.7,276.1 688.9,273.6 690.3,271.1 691.8,268.5 693.5,266.0 695.3,263.4" fill="url(#gA2)" stroke="#B9CAEC" stroke-width="0.5"/><polyline points="693.4,261.9 691.4,264.4 689.6,267.0 687.9,269.6 686.4,272.2 685.0,274.9 683.8,277.5 682.8,280.1 681.9,282.8 681.1,285.5 680.6,288.2 680.1,290.9 679.9,293.6 679.8,296.4 679.8,299.1 680.0,301.9 680.4,304.7 680.9,307.4 681.6,310.2 682.4,313.0 683.4,315.9 684.6,318.7 685.9,321.5 687.3,324.4 688.9,327.3 690.7,330.1 692.6,333.0 694.7,335.9 696.9,338.8" fill="none" stroke="#EEF3FC" stroke-width="0.6" opacity="0.7"/><polygon points="702.1,253.3 697.8,265.8 690.0,258.7" fill="url(#gA2)"/><polygon points="705.3,347.6 693.4,341.9 701.4,335.0" fill="url(#gA2)"/>
<path d="M716.1,343.1 L732.5,340.1 L748.1,343.9 L748.1,350.6 L732.5,353.5 L716.1,350.6ZM748.1,343.9 L764.5,340.1 L780.9,343.9 L780.9,350.6 L764.5,353.5 L748.1,350.6ZM780.9,343.9 L798.1,340.1 L814.5,343.1 L814.5,349.8 L798.1,352.8 L780.9,350.6ZM748.1,362.5 L764.5,359.1 L781.7,363.2 L781.7,368.5 L764.5,372.2 L748.1,369.2ZM702.7,340.1 L716.1,343.9M781.7,363.2 L794.4,361.0" fill="none" stroke="#E99C6A" stroke-width="2.5" stroke-linejoin="round"/>
<path d="M716.1,343.1 L732.5,340.1 L748.1,343.9 L748.1,350.6 L732.5,353.5 L716.1,350.6ZM748.1,343.9 L764.5,340.1 L780.9,343.9 L780.9,350.6 L764.5,353.5 L748.1,350.6ZM780.9,343.9 L798.1,340.1 L814.5,343.1 L814.5,349.8 L798.1,352.8 L780.9,350.6ZM748.1,362.5 L764.5,359.1 L781.7,363.2 L781.7,368.5 L764.5,372.2 L748.1,369.2ZM702.7,340.1 L716.1,343.9M781.7,363.2 L794.4,361.0" fill="none" stroke="#F5C29E" stroke-width="1.1" stroke-linejoin="round"/>
<g transform="translate(951.3,187.0) rotate(-55.7)"><ellipse cx="11.6" cy="0" rx="11.6" ry="4.35" fill="url(#gPet)"/></g><g transform="translate(960.0,195.1) rotate(-5.2)"><ellipse cx="12.1" cy="0" rx="12.1" ry="4.35" fill="url(#gPet)"/></g><g transform="translate(943.9,196.2) rotate(-173.8)"><ellipse cx="12.1" cy="0" rx="12.1" ry="4.35" fill="url(#gPet)"/></g><g transform="translate(953.5,206.0) rotate(84.6)"><ellipse cx="11.8" cy="0" rx="11.8" ry="4.35" fill="url(#gPet)"/></g><circle cx="952.6" cy="196.6" r="6.4" fill="url(#gPink)" stroke="#8F7A2C" stroke-width="1.4"/>
<g transform="translate(819.8,256.2) rotate(-54.6)"><ellipse cx="12.4" cy="0" rx="12.4" ry="4.1" fill="url(#gPet)"/></g><g transform="translate(829.1,264.2) rotate(-2.7)"><ellipse cx="12.7" cy="0" rx="12.7" ry="4.1" fill="url(#gPet)"/></g><g transform="translate(812.2,266.4) rotate(-172.6)"><ellipse cx="13.2" cy="0" rx="13.2" ry="4.1" fill="url(#gPet)"/></g><g transform="translate(819.8,275.7) rotate(125.8)"><ellipse cx="13.0" cy="0" rx="13.0" ry="4.1" fill="url(#gPet)"/></g><circle cx="821" cy="265.5" r="6.4" fill="url(#gPink)" stroke="#8F7A2C" stroke-width="1.4"/>
<g transform="translate(970.5,395.0) rotate(-122.2)"><ellipse cx="12.3" cy="0" rx="12.3" ry="4.3" fill="url(#gPet)"/></g><g transform="translate(983.0,396.1) rotate(-46.9)"><ellipse cx="12.0" cy="0" rx="12.0" ry="4.3" fill="url(#gPet)"/></g><g transform="translate(965.5,402.7) rotate(171.5)"><ellipse cx="12.5" cy="0" rx="12.5" ry="4.3" fill="url(#gPet)"/></g><g transform="translate(971.4,410.8) rotate(122.8)"><ellipse cx="12.1" cy="0" rx="12.1" ry="4.3" fill="url(#gPet)"/></g><g transform="translate(983.0,409.2) rotate(56.4)"><ellipse cx="11.8" cy="0" rx="11.8" ry="4.3" fill="url(#gPet)"/></g><circle cx="975.3" cy="402.2" r="6.4" fill="url(#gPink)" stroke="#8F7A2C" stroke-width="1.4"/>
<g transform="translate(734.2,448.3) rotate(-123.4)"><ellipse cx="11.9" cy="0" rx="11.9" ry="4.35" fill="url(#gPet)"/></g><g transform="translate(745.9,449.0) rotate(-47.2)"><ellipse cx="11.9" cy="0" rx="11.9" ry="4.35" fill="url(#gPet)"/></g><g transform="translate(729.8,455.7) rotate(177.0)"><ellipse cx="12.5" cy="0" rx="12.5" ry="4.35" fill="url(#gPet)"/></g><g transform="translate(735.2,462.4) rotate(121.0)"><ellipse cx="12.0" cy="0" rx="12.0" ry="4.35" fill="url(#gPet)"/></g><g transform="translate(745.2,461.4) rotate(52.5)"><ellipse cx="12.4" cy="0" rx="12.4" ry="4.35" fill="url(#gPet)"/></g><circle cx="739.2" cy="455.2" r="6.4" fill="url(#gPink)" stroke="#8F7A2C" stroke-width="1.4"/>
<ellipse cx="738.7" cy="103.1" rx="6.9" ry="7.75" fill="url(#gRed)"/>
<ellipse cx="820.7" cy="104.6" rx="6.9" ry="7.75" fill="url(#gBlue)"/>
<ellipse cx="786.2" cy="204.6" rx="6.9" ry="7.75" fill="url(#gCyan)"/>
<ellipse cx="945.4000000000001" cy="276.70000000000005" rx="6.9" ry="7.75" fill="url(#gCyan)"/>
<ellipse cx="913.2" cy="334.1" rx="6.9" ry="7.75" fill="url(#gRed)"/>
<ellipse cx="800.6" cy="360.1" rx="6.9" ry="7.75" fill="url(#gRed)"/>
<circle cx="895.0" cy="104.1" r="6.5" fill="url(#gPurp)" stroke="#9A7A3C" stroke-width="1.3"/>
<circle cx="981.6" cy="320.4" r="6.5" fill="url(#gPurp)" stroke="#9A7A3C" stroke-width="1.3"/>
<circle cx="1004.7" cy="97.0" r="5.25" fill="url(#gGreen)" stroke="#8F7E2A" stroke-width="1.35"/>
<circle cx="982.1" cy="260.5" r="5.25" fill="url(#gGreen)" stroke="#8F7E2A" stroke-width="1.35"/>
<circle cx="694.1" cy="143.5" r="6.7" fill="url(#gOrg)" stroke="#A8782C" stroke-width="1.3"/>
<circle cx="885.9000000000001" cy="156.6" r="6.4" fill="url(#gPink)" stroke="#9A7A3C" stroke-width="1.3"/>
<circle cx="710.2" cy="258.4" r="6.2" fill="url(#gPurp)" stroke="#9A7A3C" stroke-width="1.3"/>
<circle cx="708.4000000000001" cy="247.3" r="6.4" fill="url(#gPink)" stroke="#9A7A3C" stroke-width="1.3"/>
<ellipse cx="913.2" cy="449.70000000000005" rx="6.9" ry="7.75" fill="url(#gBlue)"/>
<circle cx="921.8000000000001" cy="439.5" r="6.6000000000000005" fill="url(#gOrg)" stroke="#A8782C" stroke-width="1.3"/>
<text x="294" y="35.8" font-family="'Liberation Serif', 'Times New Roman', serif" font-weight="bold" stroke="#000" stroke-width="0.3" font-size="27.7" text-anchor="middle" fill="#000" >GO on GF/F</text>
<text x="850.5" y="35.7" font-family="'Liberation Serif', 'Times New Roman', serif" font-weight="bold" stroke="#000" stroke-width="0.3" font-size="27.6" text-anchor="middle" fill="#000" >Separator</text>
<text transform="translate(36.6,278.3) rotate(-90)" font-family="'Liberation Serif', 'Times New Roman', serif" font-weight="bold" stroke="#000" stroke-width="0.3" font-size="27" text-anchor="middle">NUPI cathode</text>
<text transform="translate(609.8,285.3) rotate(-90)" font-family="'Liberation Serif', 'Times New Roman', serif" font-weight="bold" stroke="#000" stroke-width="0.3" font-size="27.2" text-anchor="middle">NUPI cathode</text>
<text transform="translate(466,274) rotate(90)" font-family="'Liberation Serif', 'Times New Roman', serif" font-weight="bold" stroke="#000" stroke-width="0.3" font-size="27.4" text-anchor="middle">Mg anode</text>
<text transform="translate(1042.3,283.5) rotate(90)" font-family="'Liberation Serif', 'Times New Roman', serif" font-weight="bold" stroke="#000" stroke-width="0.3" font-size="27.3" text-anchor="middle">Mg anode</text>
<text x="189.3" y="89" font-family="'Liberation Serif', 'Times New Roman', serif" font-weight="bold" stroke="#000" stroke-width="0.3" font-size="18.3" fill="#000"><tspan font-size="18.3" dy="0.0">[B(hfip)</tspan><tspan font-size="11.53" dy="3.4">4</tspan><tspan font-size="18.3" dy="-3.4">]</tspan><tspan font-size="11.53" dy="-6.0">−</tspan></text>
<text x="380.8" y="83.5" font-family="'Liberation Serif', 'Times New Roman', serif" font-weight="bold" stroke="#000" stroke-width="0.3" font-size="18.3" fill="#000"><tspan font-size="18.3" dy="0.0">Mg</tspan><tspan font-size="11.53" dy="-6.0">2+</tspan></text>
<text x="189.8" y="288" font-family="'Liberation Serif', 'Times New Roman', serif" font-weight="bold" stroke="#000" stroke-width="0.3" font-size="18.3" text-anchor="middle" fill="#000" >soluble</text>
<text x="189.8" y="309.6" font-family="'Liberation Serif', 'Times New Roman', serif" font-weight="bold" stroke="#000" stroke-width="0.3" font-size="18.3" text-anchor="middle" fill="#000" >intermediate</text>
<text x="184.7" y="454.3" font-family="'Liberation Serif', 'Times New Roman', serif" font-weight="bold" stroke="#000" stroke-width="0.3" font-size="18.2" text-anchor="start" fill="#000" >solvation</text>
<text x="184.5" y="476.3" font-family="'Liberation Serif', 'Times New Roman', serif" font-weight="bold" stroke="#000" stroke-width="0.3" font-size="18.2" text-anchor="start" fill="#000" >structure</text>
<text x="726.4" y="90" font-family="'Liberation Serif', 'Times New Roman', serif" font-weight="bold" stroke="#000" stroke-width="0.3" font-size="18.3" fill="#000"><tspan font-size="18.3" dy="0.0">Cl</tspan><tspan font-size="11.53" dy="-6.0">−</tspan></text>
<text x="796.4" y="90" font-family="'Liberation Serif', 'Times New Roman', serif" font-weight="bold" stroke="#000" stroke-width="0.3" font-size="18.3" fill="#000"><tspan font-size="18.3" dy="0.0">AlCl</tspan><tspan font-size="11.53" dy="3.4">4</tspan><tspan font-size="11.53" dy="-9.4">−</tspan></text>
<text x="873" y="84.9" font-family="'Liberation Serif', 'Times New Roman', serif" font-weight="bold" stroke="#000" stroke-width="0.3" font-size="18.3" fill="#000"><tspan font-size="18.3" dy="0.0">Mg</tspan><tspan font-size="11.53" dy="3.4">2</tspan><tspan font-size="18.3" dy="-3.4">Cl</tspan><tspan font-size="11.53" dy="3.4">3</tspan><tspan font-size="11.53" dy="-9.4">+</tspan></text>
<text x="980.3" y="83.5" font-family="'Liberation Serif', 'Times New Roman', serif" font-weight="bold" stroke="#000" stroke-width="0.3" font-size="18.3" fill="#000"><tspan font-size="18.3" dy="0.0">Mg</tspan><tspan font-size="11.53" dy="-6.0">2+</tspan></text>
<text x="706.4" y="151.9" font-family="'Liberation Serif', 'Times New Roman', serif" font-weight="bold" stroke="#000" stroke-width="0.3" font-size="18.3" fill="#000"><tspan font-size="18.3" dy="0.0">AlCl</tspan><tspan font-size="11.53" dy="3.4">2</tspan><tspan font-size="11.53" dy="-9.4">+</tspan></text>
<text x="896.3" y="160.7" font-family="'Liberation Serif', 'Times New Roman', serif" font-weight="bold" stroke="#000" stroke-width="0.3" font-size="18.3" fill="#000"><tspan font-size="18.3" dy="0.0">MgCl</tspan><tspan font-size="11.53" dy="-6.0">+</tspan></text>
<text x="725.6" y="190.9" font-family="'Liberation Serif', 'Times New Roman', serif" font-weight="bold" stroke="#000" stroke-width="0.3" font-size="18.3" fill="#000"><tspan font-size="18.3" dy="0.0">HMDSAlCl</tspan><tspan font-size="11.53" dy="3.4">3</tspan><tspan font-size="11.53" dy="-9.4">−</tspan></text>
<text x="696" y="389.6" font-family="'Liberation Serif', 'Times New Roman', serif" font-weight="bold" stroke="#000" stroke-width="0.3" font-size="18.3" text-anchor="start" fill="#000" >structure collapse</text>
<text x="767" y="458" font-family="'Liberation Serif', 'Times New Roman', serif" font-weight="bold" stroke="#000" stroke-width="0.3" font-size="18.3" text-anchor="start" fill="#000" >solvation</text>
<text x="766.2" y="479.8" font-family="'Liberation Serif', 'Times New Roman', serif" font-weight="bold" stroke="#000" stroke-width="0.3" font-size="18.3" text-anchor="start" fill="#000" >structure</text>
</svg>
</body></html>
